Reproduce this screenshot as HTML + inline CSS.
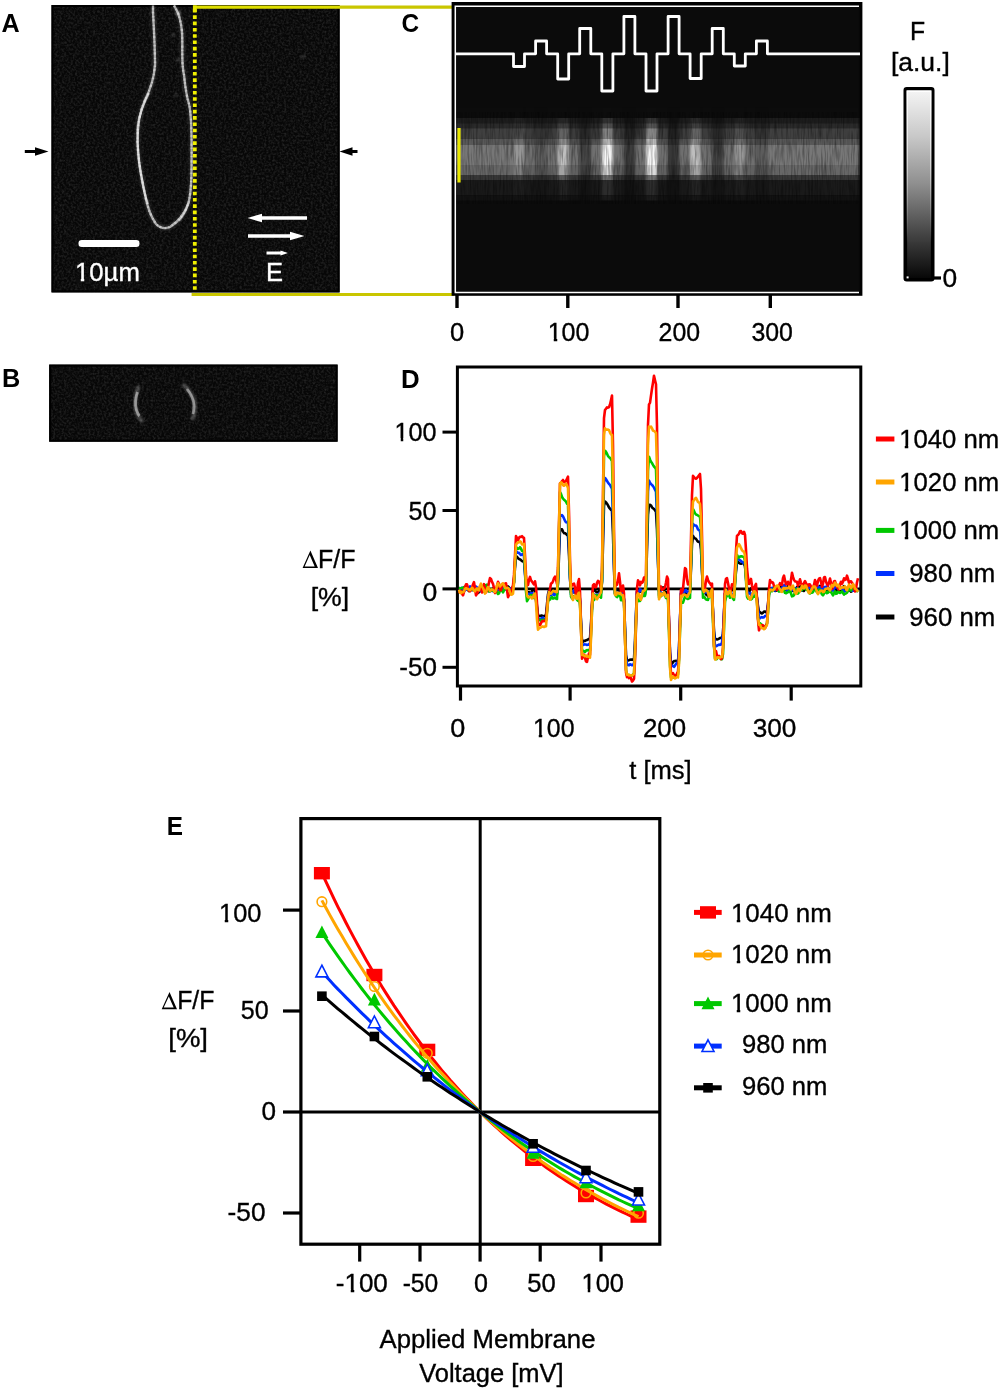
<!DOCTYPE html>
<html><head><meta charset="utf-8"><title>Figure</title>
<style>html,body{margin:0;padding:0;background:#fff;} svg{display:block;}</style></head>
<body><svg width="1000" height="1390" viewBox="0 0 1000 1390" font-family="Liberation Sans, sans-serif">
<defs>
<filter id="blur1" color-interpolation-filters="sRGB" x="-20%" y="-20%" width="140%" height="140%"><feGaussianBlur stdDeviation="0.7"/></filter>
<filter id="blur2" color-interpolation-filters="sRGB" x="-20%" y="-20%" width="140%" height="140%"><feGaussianBlur stdDeviation="1.2"/></filter>
<filter id="noise" color-interpolation-filters="sRGB" x="0" y="0" width="100%" height="100%">
  <feTurbulence type="fractalNoise" baseFrequency="0.45" numOctaves="2" seed="3"/>
  <feColorMatrix type="matrix" values="0 0 0 0 1  0 0 0 0 1  0 0 0 0 1  1.2 0 0 0 -0.45" />
</filter>
<filter id="bandblur" color-interpolation-filters="sRGB" x="0" y="0" width="100%" height="100%"><feGaussianBlur stdDeviation="0.9 0.5"/></filter>
<filter id="streak" color-interpolation-filters="sRGB" x="0" y="0" width="100%" height="100%">
  <feTurbulence type="fractalNoise" baseFrequency="0.6 0.05" numOctaves="2" seed="5"/>
  <feColorMatrix type="matrix" values="0 0 0 0 0  0 0 0 0 0  0 0 0 0 0  1.4 0 0 0 -0.55" />
</filter>
<linearGradient id="cbhl" gradientUnits="userSpaceOnUse" x1="0" y1="90" x2="0" y2="242">
  <stop offset="0" stop-color="#fff" stop-opacity="1"/><stop offset="0.5" stop-color="#fff" stop-opacity="0.6"/><stop offset="1" stop-color="#fff" stop-opacity="0"/>
</linearGradient>
<linearGradient id="cbar" x1="0" y1="0" x2="0" y2="1">
  <stop offset="0" stop-color="#f6f6f6"/><stop offset="0.25" stop-color="#c8c8c8"/>
  <stop offset="0.5" stop-color="#8e8e8e"/><stop offset="0.75" stop-color="#474747"/>
  <stop offset="1" stop-color="#050505"/>
</linearGradient>
</defs>
<rect x="51.5" y="5.0" width="288.1" height="287.4" fill="#070707"/>
<rect x="51.5" y="5.0" width="288.1" height="287.4" fill="#fff" filter="url(#noise)" opacity="0.2"/>
<rect x="52.5" y="6.0" width="286.1" height="285.4" fill="none" stroke="#000" stroke-width="2"/>
<path d="M174,5.5 L176,9 C179,14 181,22 182,32 C183,50 181,62 184,75 C185,85 186,95 189,104 C191,112 191.6,125 191.6,150 C191.6,175 191.6,190 188.5,203 C185,213 178,222 170,227 C165,229 160,228 156,224 C151,217 147,207 144.5,192 C141.5,177 138,162 137.5,142 C137.5,127 139,113 145,100 C150,90 154,80 155,65 C155,50 154,30 153,12 L153,5.5" fill="none" stroke="#fff" stroke-width="5" opacity="0.12" filter="url(#blur2)"/>
<path d="M174,5.5 L176,9 C179,14 181,22 182,32 C183,50 181,62 184,75 C185,85 186,95 189,104 C191,112 191.6,125 191.6,150 C191.6,175 191.6,190 188.5,203 C185,213 178,222 170,227 C165,229 160,228 156,224 C151,217 147,207 144.5,192 C141.5,177 138,162 137.5,142 C137.5,127 139,113 145,100 C150,90 154,80 155,65 C155,50 154,30 153,12 L153,5.5" fill="none" stroke="#fff" stroke-width="2.3" opacity="0.6" filter="url(#blur1)"/>
<path d="M174,5.5 L176,9 C179,14 181,22 182,32 C183,50 181,62 184,75 C185,85 186,95 189,104 C191,112 191.6,125 191.6,150 C191.6,175 191.6,190 188.5,203 C185,213 178,222 170,227 C165,229 160,228 156,224 C151,217 147,207 144.5,192 C141.5,177 138,162 137.5,142 C137.5,127 139,113 145,100 C150,90 154,80 155,65 C155,50 154,30 153,12 L153,5.5" fill="none" stroke="#fff" stroke-width="2.6" opacity="0.35" stroke-dasharray="1.6 2.4 1.1 3.3 2.2 1.9 1.2 2.8" filter="url(#blur1)"/>
<path d="M149,93 C146,99 139,113 137.5,127 C137.5,142 138,162 141.5,177 C143,187 145,196 148,204" fill="none" stroke="#fff" stroke-width="2.2" opacity="0.5" filter="url(#blur1)"/>
<path d="M179,221 C183,217 186,211 188.5,203" fill="none" stroke="#fff" stroke-width="2.2" opacity="0.4" filter="url(#blur1)"/>
<circle cx="178" cy="13" r="2.5" fill="#fff" opacity="0.3" filter="url(#blur2)"/>
<circle cx="173" cy="35" r="2" fill="#fff" opacity="0.15" filter="url(#blur2)"/>
<circle cx="178" cy="60" r="2" fill="#fff" opacity="0.15" filter="url(#blur2)"/>
<circle cx="176" cy="95" r="2" fill="#fff" opacity="0.12" filter="url(#blur2)"/>
<circle cx="303" cy="57" r="2.2" fill="#fff" opacity="0.12" filter="url(#blur2)"/>
<line x1="194.8" y1="9" x2="194.8" y2="292" stroke="#f0f000" stroke-width="3.8" stroke-dasharray="3.6 2.7"/>
<line x1="193" y1="7.1" x2="340" y2="7.1" stroke="#dede00" stroke-width="3.4"/>
<line x1="340" y1="7.1" x2="453" y2="7.1" stroke="#c9c600" stroke-width="3.4"/>
<line x1="194.8" y1="5.4" x2="194.8" y2="12" stroke="#e8e800" stroke-width="3.8"/>
<line x1="191.6" y1="294.5" x2="454" y2="294.5" stroke="#c9c600" stroke-width="3.2"/>
<rect x="78.5" y="240" width="61" height="7" rx="3.3" fill="#fff"/>
<polygon points="307.0,216.2 262.0,216.2 262.0,213.8 247.5,218.0 262.0,222.2 262.0,219.8 307.0,219.8" fill="#fff"/>
<polygon points="248.0,234.2 290.0,234.2 290.0,231.8 304.5,236.0 290.0,240.2 290.0,237.8 248.0,237.8" fill="#fff"/>
<polygon points="266.5,251.5 280.5,251.5 280.5,250.5 288.0,253.0 280.5,255.5 280.5,254.5 266.5,254.5" fill="#fff"/>
<polygon points="24.8,149.9 35.0,149.9 35.0,147.2 48.5,151.5 35.0,155.8 35.0,153.1 24.8,153.1" fill="#000"/>
<polygon points="357.5,149.9 352.5,149.9 352.5,147.3 339.5,151.5 352.5,155.7 352.5,153.1 357.5,153.1" fill="#000"/>
<rect x="49.2" y="364.6" width="288.40000000000003" height="77.09999999999997" fill="#070707"/>
<rect x="49.2" y="364.6" width="288.40000000000003" height="77.09999999999997" fill="#fff" filter="url(#noise)" opacity="0.2"/>
<rect x="50.2" y="365.6" width="286.40000000000003" height="75.09999999999997" fill="none" stroke="#000" stroke-width="2"/>
<path d="M139,386 C135,394 134,405 136,411 C137,415 140,419 143,422" fill="none" stroke="#fff" stroke-width="4" opacity="0.25" filter="url(#blur2)"/>
<path d="M183,384 C189,390 195,398 195,406 C195,412 194,416 192,420" fill="none" stroke="#fff" stroke-width="4" opacity="0.25" filter="url(#blur2)"/>
<path d="M137.5,392 C135.5,398 135,405 136.5,410 C137.5,413 138.5,415 139.5,416" fill="none" stroke="#fff" stroke-width="2.8" opacity="0.45" filter="url(#blur1)"/>
<path d="M187,389 C191,394 194,399 194,406 C194,410 193.5,412 193,414" fill="none" stroke="#fff" stroke-width="2.8" opacity="0.42" filter="url(#blur1)"/>
<rect x="451.6" y="2" width="410.8" height="293.8" fill="#000"/>
<rect x="456" y="7" width="403" height="284" fill="#0b0b0b"/>
<g filter="url(#bandblur)">
<rect x="455" y="6" width="405" height="286" fill="#0b0b0b"/>
<rect x="456.00" y="107.5" width="57.55" height="10.50" fill="rgb(12,12,12)"/>
<rect x="456.00" y="118" width="57.55" height="5.20" fill="rgb(29,29,29)"/>
<rect x="456.00" y="123.2" width="57.55" height="5.00" fill="rgb(42,42,42)"/>
<rect x="456.00" y="128.2" width="57.55" height="10.30" fill="rgb(64,64,64)"/>
<rect x="456.00" y="138.5" width="57.55" height="6.50" fill="rgb(89,89,89)"/>
<rect x="456.00" y="145" width="57.55" height="20.00" fill="rgb(119,119,119)"/>
<rect x="456.00" y="165" width="57.55" height="10.00" fill="rgb(103,103,103)"/>
<rect x="456.00" y="175" width="57.55" height="5.00" fill="rgb(56,56,56)"/>
<rect x="456.00" y="180" width="57.55" height="15.20" fill="rgb(26,26,26)"/>
<rect x="456.00" y="195.2" width="57.55" height="5.30" fill="rgb(18,18,18)"/>
<rect x="513.50" y="107.5" width="11.09" height="10.50" fill="rgb(12,12,12)"/>
<rect x="513.50" y="118" width="11.09" height="5.20" fill="rgb(34,34,34)"/>
<rect x="513.50" y="123.2" width="11.09" height="5.00" fill="rgb(51,51,51)"/>
<rect x="513.50" y="128.2" width="11.09" height="10.30" fill="rgb(79,79,79)"/>
<rect x="513.50" y="138.5" width="11.09" height="6.50" fill="rgb(110,110,110)"/>
<rect x="513.50" y="145" width="11.09" height="20.00" fill="rgb(150,150,150)"/>
<rect x="513.50" y="165" width="11.09" height="10.00" fill="rgb(129,129,129)"/>
<rect x="513.50" y="175" width="11.09" height="5.00" fill="rgb(68,68,68)"/>
<rect x="513.50" y="180" width="11.09" height="15.20" fill="rgb(30,30,30)"/>
<rect x="513.50" y="195.2" width="11.09" height="5.30" fill="rgb(20,20,20)"/>
<rect x="524.54" y="107.5" width="11.09" height="10.50" fill="rgb(12,12,12)"/>
<rect x="524.54" y="118" width="11.09" height="5.20" fill="rgb(28,28,28)"/>
<rect x="524.54" y="123.2" width="11.09" height="5.00" fill="rgb(40,40,40)"/>
<rect x="524.54" y="128.2" width="11.09" height="10.30" fill="rgb(60,60,60)"/>
<rect x="524.54" y="138.5" width="11.09" height="6.50" fill="rgb(82,82,82)"/>
<rect x="524.54" y="145" width="11.09" height="20.00" fill="rgb(111,111,111)"/>
<rect x="524.54" y="165" width="11.09" height="10.00" fill="rgb(96,96,96)"/>
<rect x="524.54" y="175" width="11.09" height="5.00" fill="rgb(52,52,52)"/>
<rect x="524.54" y="180" width="11.09" height="15.20" fill="rgb(25,25,25)"/>
<rect x="524.54" y="195.2" width="11.09" height="5.30" fill="rgb(18,18,18)"/>
<rect x="535.58" y="107.5" width="11.09" height="10.50" fill="rgb(11,11,11)"/>
<rect x="535.58" y="118" width="11.09" height="5.20" fill="rgb(25,25,25)"/>
<rect x="535.58" y="123.2" width="11.09" height="5.00" fill="rgb(34,34,34)"/>
<rect x="535.58" y="128.2" width="11.09" height="10.30" fill="rgb(51,51,51)"/>
<rect x="535.58" y="138.5" width="11.09" height="6.50" fill="rgb(69,69,69)"/>
<rect x="535.58" y="145" width="11.09" height="20.00" fill="rgb(92,92,92)"/>
<rect x="535.58" y="165" width="11.09" height="10.00" fill="rgb(80,80,80)"/>
<rect x="535.58" y="175" width="11.09" height="5.00" fill="rgb(44,44,44)"/>
<rect x="535.58" y="180" width="11.09" height="15.20" fill="rgb(22,22,22)"/>
<rect x="535.58" y="195.2" width="11.09" height="5.30" fill="rgb(16,16,16)"/>
<rect x="546.62" y="107.5" width="11.09" height="10.50" fill="rgb(12,12,12)"/>
<rect x="546.62" y="118" width="11.09" height="5.20" fill="rgb(28,28,28)"/>
<rect x="546.62" y="123.2" width="11.09" height="5.00" fill="rgb(40,40,40)"/>
<rect x="546.62" y="128.2" width="11.09" height="10.30" fill="rgb(60,60,60)"/>
<rect x="546.62" y="138.5" width="11.09" height="6.50" fill="rgb(82,82,82)"/>
<rect x="546.62" y="145" width="11.09" height="20.00" fill="rgb(111,111,111)"/>
<rect x="546.62" y="165" width="11.09" height="10.00" fill="rgb(96,96,96)"/>
<rect x="546.62" y="175" width="11.09" height="5.00" fill="rgb(52,52,52)"/>
<rect x="546.62" y="180" width="11.09" height="15.20" fill="rgb(25,25,25)"/>
<rect x="546.62" y="195.2" width="11.09" height="5.30" fill="rgb(18,18,18)"/>
<rect x="557.66" y="107.5" width="11.09" height="10.50" fill="rgb(12,12,12)"/>
<rect x="557.66" y="118" width="11.09" height="5.20" fill="rgb(41,41,41)"/>
<rect x="557.66" y="123.2" width="11.09" height="5.00" fill="rgb(63,63,63)"/>
<rect x="557.66" y="128.2" width="11.09" height="10.30" fill="rgb(99,99,99)"/>
<rect x="557.66" y="138.5" width="11.09" height="6.50" fill="rgb(139,139,139)"/>
<rect x="557.66" y="145" width="11.09" height="20.00" fill="rgb(190,190,190)"/>
<rect x="557.66" y="165" width="11.09" height="10.00" fill="rgb(163,163,163)"/>
<rect x="557.66" y="175" width="11.09" height="5.00" fill="rgb(85,85,85)"/>
<rect x="557.66" y="180" width="11.09" height="15.20" fill="rgb(36,36,36)"/>
<rect x="557.66" y="195.2" width="11.09" height="5.30" fill="rgb(23,23,23)"/>
<rect x="568.70" y="107.5" width="11.09" height="10.50" fill="rgb(12,12,12)"/>
<rect x="568.70" y="118" width="11.09" height="5.20" fill="rgb(28,28,28)"/>
<rect x="568.70" y="123.2" width="11.09" height="5.00" fill="rgb(40,40,40)"/>
<rect x="568.70" y="128.2" width="11.09" height="10.30" fill="rgb(60,60,60)"/>
<rect x="568.70" y="138.5" width="11.09" height="6.50" fill="rgb(82,82,82)"/>
<rect x="568.70" y="145" width="11.09" height="20.00" fill="rgb(111,111,111)"/>
<rect x="568.70" y="165" width="11.09" height="10.00" fill="rgb(96,96,96)"/>
<rect x="568.70" y="175" width="11.09" height="5.00" fill="rgb(52,52,52)"/>
<rect x="568.70" y="180" width="11.09" height="15.20" fill="rgb(25,25,25)"/>
<rect x="568.70" y="195.2" width="11.09" height="5.30" fill="rgb(18,18,18)"/>
<rect x="579.74" y="107.5" width="11.09" height="10.50" fill="rgb(11,11,11)"/>
<rect x="579.74" y="118" width="11.09" height="5.20" fill="rgb(21,21,21)"/>
<rect x="579.74" y="123.2" width="11.09" height="5.00" fill="rgb(28,28,28)"/>
<rect x="579.74" y="128.2" width="11.09" height="10.30" fill="rgb(40,40,40)"/>
<rect x="579.74" y="138.5" width="11.09" height="6.50" fill="rgb(53,53,53)"/>
<rect x="579.74" y="145" width="11.09" height="20.00" fill="rgb(70,70,70)"/>
<rect x="579.74" y="165" width="11.09" height="10.00" fill="rgb(61,61,61)"/>
<rect x="579.74" y="175" width="11.09" height="5.00" fill="rgb(35,35,35)"/>
<rect x="579.74" y="180" width="11.09" height="15.20" fill="rgb(19,19,19)"/>
<rect x="579.74" y="195.2" width="11.09" height="5.30" fill="rgb(15,15,15)"/>
<rect x="590.78" y="107.5" width="11.09" height="10.50" fill="rgb(12,12,12)"/>
<rect x="590.78" y="118" width="11.09" height="5.20" fill="rgb(28,28,28)"/>
<rect x="590.78" y="123.2" width="11.09" height="5.00" fill="rgb(40,40,40)"/>
<rect x="590.78" y="128.2" width="11.09" height="10.30" fill="rgb(60,60,60)"/>
<rect x="590.78" y="138.5" width="11.09" height="6.50" fill="rgb(82,82,82)"/>
<rect x="590.78" y="145" width="11.09" height="20.00" fill="rgb(111,111,111)"/>
<rect x="590.78" y="165" width="11.09" height="10.00" fill="rgb(96,96,96)"/>
<rect x="590.78" y="175" width="11.09" height="5.00" fill="rgb(52,52,52)"/>
<rect x="590.78" y="180" width="11.09" height="15.20" fill="rgb(25,25,25)"/>
<rect x="590.78" y="195.2" width="11.09" height="5.30" fill="rgb(18,18,18)"/>
<rect x="601.82" y="107.5" width="11.09" height="10.50" fill="rgb(13,13,13)"/>
<rect x="601.82" y="118" width="11.09" height="5.20" fill="rgb(52,52,52)"/>
<rect x="601.82" y="123.2" width="11.09" height="5.00" fill="rgb(81,81,81)"/>
<rect x="601.82" y="128.2" width="11.09" height="10.30" fill="rgb(129,129,129)"/>
<rect x="601.82" y="138.5" width="11.09" height="6.50" fill="rgb(182,182,182)"/>
<rect x="601.82" y="145" width="11.09" height="20.00" fill="rgb(245,245,245)"/>
<rect x="601.82" y="165" width="11.09" height="10.00" fill="rgb(214,214,214)"/>
<rect x="601.82" y="175" width="11.09" height="5.00" fill="rgb(110,110,110)"/>
<rect x="601.82" y="180" width="11.09" height="15.20" fill="rgb(44,44,44)"/>
<rect x="601.82" y="195.2" width="11.09" height="5.30" fill="rgb(27,27,27)"/>
<rect x="612.86" y="107.5" width="11.09" height="10.50" fill="rgb(12,12,12)"/>
<rect x="612.86" y="118" width="11.09" height="5.20" fill="rgb(28,28,28)"/>
<rect x="612.86" y="123.2" width="11.09" height="5.00" fill="rgb(40,40,40)"/>
<rect x="612.86" y="128.2" width="11.09" height="10.30" fill="rgb(60,60,60)"/>
<rect x="612.86" y="138.5" width="11.09" height="6.50" fill="rgb(82,82,82)"/>
<rect x="612.86" y="145" width="11.09" height="20.00" fill="rgb(111,111,111)"/>
<rect x="612.86" y="165" width="11.09" height="10.00" fill="rgb(96,96,96)"/>
<rect x="612.86" y="175" width="11.09" height="5.00" fill="rgb(52,52,52)"/>
<rect x="612.86" y="180" width="11.09" height="15.20" fill="rgb(25,25,25)"/>
<rect x="612.86" y="195.2" width="11.09" height="5.30" fill="rgb(18,18,18)"/>
<rect x="623.90" y="107.5" width="11.09" height="10.50" fill="rgb(11,11,11)"/>
<rect x="623.90" y="118" width="11.09" height="5.20" fill="rgb(19,19,19)"/>
<rect x="623.90" y="123.2" width="11.09" height="5.00" fill="rgb(25,25,25)"/>
<rect x="623.90" y="128.2" width="11.09" height="10.30" fill="rgb(35,35,35)"/>
<rect x="623.90" y="138.5" width="11.09" height="6.50" fill="rgb(46,46,46)"/>
<rect x="623.90" y="145" width="11.09" height="20.00" fill="rgb(60,60,60)"/>
<rect x="623.90" y="165" width="11.09" height="10.00" fill="rgb(52,52,52)"/>
<rect x="623.90" y="175" width="11.09" height="5.00" fill="rgb(31,31,31)"/>
<rect x="623.90" y="180" width="11.09" height="15.20" fill="rgb(17,17,17)"/>
<rect x="623.90" y="195.2" width="11.09" height="5.30" fill="rgb(14,14,14)"/>
<rect x="634.94" y="107.5" width="11.09" height="10.50" fill="rgb(12,12,12)"/>
<rect x="634.94" y="118" width="11.09" height="5.20" fill="rgb(28,28,28)"/>
<rect x="634.94" y="123.2" width="11.09" height="5.00" fill="rgb(40,40,40)"/>
<rect x="634.94" y="128.2" width="11.09" height="10.30" fill="rgb(60,60,60)"/>
<rect x="634.94" y="138.5" width="11.09" height="6.50" fill="rgb(82,82,82)"/>
<rect x="634.94" y="145" width="11.09" height="20.00" fill="rgb(111,111,111)"/>
<rect x="634.94" y="165" width="11.09" height="10.00" fill="rgb(96,96,96)"/>
<rect x="634.94" y="175" width="11.09" height="5.00" fill="rgb(52,52,52)"/>
<rect x="634.94" y="180" width="11.09" height="15.20" fill="rgb(25,25,25)"/>
<rect x="634.94" y="195.2" width="11.09" height="5.30" fill="rgb(18,18,18)"/>
<rect x="645.98" y="107.5" width="11.09" height="10.50" fill="rgb(13,13,13)"/>
<rect x="645.98" y="118" width="11.09" height="5.20" fill="rgb(53,53,53)"/>
<rect x="645.98" y="123.2" width="11.09" height="5.00" fill="rgb(82,82,82)"/>
<rect x="645.98" y="128.2" width="11.09" height="10.30" fill="rgb(132,132,132)"/>
<rect x="645.98" y="138.5" width="11.09" height="6.50" fill="rgb(186,186,186)"/>
<rect x="645.98" y="145" width="11.09" height="20.00" fill="rgb(245,245,245)"/>
<rect x="645.98" y="165" width="11.09" height="10.00" fill="rgb(218,218,218)"/>
<rect x="645.98" y="175" width="11.09" height="5.00" fill="rgb(112,112,112)"/>
<rect x="645.98" y="180" width="11.09" height="15.20" fill="rgb(45,45,45)"/>
<rect x="645.98" y="195.2" width="11.09" height="5.30" fill="rgb(28,28,28)"/>
<rect x="657.02" y="107.5" width="11.09" height="10.50" fill="rgb(12,12,12)"/>
<rect x="657.02" y="118" width="11.09" height="5.20" fill="rgb(28,28,28)"/>
<rect x="657.02" y="123.2" width="11.09" height="5.00" fill="rgb(40,40,40)"/>
<rect x="657.02" y="128.2" width="11.09" height="10.30" fill="rgb(60,60,60)"/>
<rect x="657.02" y="138.5" width="11.09" height="6.50" fill="rgb(82,82,82)"/>
<rect x="657.02" y="145" width="11.09" height="20.00" fill="rgb(111,111,111)"/>
<rect x="657.02" y="165" width="11.09" height="10.00" fill="rgb(96,96,96)"/>
<rect x="657.02" y="175" width="11.09" height="5.00" fill="rgb(52,52,52)"/>
<rect x="657.02" y="180" width="11.09" height="15.20" fill="rgb(25,25,25)"/>
<rect x="657.02" y="195.2" width="11.09" height="5.30" fill="rgb(18,18,18)"/>
<rect x="668.06" y="107.5" width="11.09" height="10.50" fill="rgb(11,11,11)"/>
<rect x="668.06" y="118" width="11.09" height="5.20" fill="rgb(18,18,18)"/>
<rect x="668.06" y="123.2" width="11.09" height="5.00" fill="rgb(24,24,24)"/>
<rect x="668.06" y="128.2" width="11.09" height="10.30" fill="rgb(33,33,33)"/>
<rect x="668.06" y="138.5" width="11.09" height="6.50" fill="rgb(43,43,43)"/>
<rect x="668.06" y="145" width="11.09" height="20.00" fill="rgb(56,56,56)"/>
<rect x="668.06" y="165" width="11.09" height="10.00" fill="rgb(49,49,49)"/>
<rect x="668.06" y="175" width="11.09" height="5.00" fill="rgb(29,29,29)"/>
<rect x="668.06" y="180" width="11.09" height="15.20" fill="rgb(17,17,17)"/>
<rect x="668.06" y="195.2" width="11.09" height="5.30" fill="rgb(14,14,14)"/>
<rect x="679.10" y="107.5" width="11.09" height="10.50" fill="rgb(12,12,12)"/>
<rect x="679.10" y="118" width="11.09" height="5.20" fill="rgb(28,28,28)"/>
<rect x="679.10" y="123.2" width="11.09" height="5.00" fill="rgb(40,40,40)"/>
<rect x="679.10" y="128.2" width="11.09" height="10.30" fill="rgb(60,60,60)"/>
<rect x="679.10" y="138.5" width="11.09" height="6.50" fill="rgb(82,82,82)"/>
<rect x="679.10" y="145" width="11.09" height="20.00" fill="rgb(111,111,111)"/>
<rect x="679.10" y="165" width="11.09" height="10.00" fill="rgb(96,96,96)"/>
<rect x="679.10" y="175" width="11.09" height="5.00" fill="rgb(52,52,52)"/>
<rect x="679.10" y="180" width="11.09" height="15.20" fill="rgb(25,25,25)"/>
<rect x="679.10" y="195.2" width="11.09" height="5.30" fill="rgb(18,18,18)"/>
<rect x="690.14" y="107.5" width="11.09" height="10.50" fill="rgb(12,12,12)"/>
<rect x="690.14" y="118" width="11.09" height="5.20" fill="rgb(41,41,41)"/>
<rect x="690.14" y="123.2" width="11.09" height="5.00" fill="rgb(63,63,63)"/>
<rect x="690.14" y="128.2" width="11.09" height="10.30" fill="rgb(99,99,99)"/>
<rect x="690.14" y="138.5" width="11.09" height="6.50" fill="rgb(139,139,139)"/>
<rect x="690.14" y="145" width="11.09" height="20.00" fill="rgb(190,190,190)"/>
<rect x="690.14" y="165" width="11.09" height="10.00" fill="rgb(163,163,163)"/>
<rect x="690.14" y="175" width="11.09" height="5.00" fill="rgb(85,85,85)"/>
<rect x="690.14" y="180" width="11.09" height="15.20" fill="rgb(36,36,36)"/>
<rect x="690.14" y="195.2" width="11.09" height="5.30" fill="rgb(23,23,23)"/>
<rect x="701.18" y="107.5" width="11.09" height="10.50" fill="rgb(12,12,12)"/>
<rect x="701.18" y="118" width="11.09" height="5.20" fill="rgb(28,28,28)"/>
<rect x="701.18" y="123.2" width="11.09" height="5.00" fill="rgb(40,40,40)"/>
<rect x="701.18" y="128.2" width="11.09" height="10.30" fill="rgb(60,60,60)"/>
<rect x="701.18" y="138.5" width="11.09" height="6.50" fill="rgb(82,82,82)"/>
<rect x="701.18" y="145" width="11.09" height="20.00" fill="rgb(111,111,111)"/>
<rect x="701.18" y="165" width="11.09" height="10.00" fill="rgb(96,96,96)"/>
<rect x="701.18" y="175" width="11.09" height="5.00" fill="rgb(52,52,52)"/>
<rect x="701.18" y="180" width="11.09" height="15.20" fill="rgb(25,25,25)"/>
<rect x="701.18" y="195.2" width="11.09" height="5.30" fill="rgb(18,18,18)"/>
<rect x="712.22" y="107.5" width="11.09" height="10.50" fill="rgb(11,11,11)"/>
<rect x="712.22" y="118" width="11.09" height="5.20" fill="rgb(20,20,20)"/>
<rect x="712.22" y="123.2" width="11.09" height="5.00" fill="rgb(27,27,27)"/>
<rect x="712.22" y="128.2" width="11.09" height="10.30" fill="rgb(39,39,39)"/>
<rect x="712.22" y="138.5" width="11.09" height="6.50" fill="rgb(51,51,51)"/>
<rect x="712.22" y="145" width="11.09" height="20.00" fill="rgb(67,67,67)"/>
<rect x="712.22" y="165" width="11.09" height="10.00" fill="rgb(59,59,59)"/>
<rect x="712.22" y="175" width="11.09" height="5.00" fill="rgb(34,34,34)"/>
<rect x="712.22" y="180" width="11.09" height="15.20" fill="rgb(19,19,19)"/>
<rect x="712.22" y="195.2" width="11.09" height="5.30" fill="rgb(15,15,15)"/>
<rect x="723.26" y="107.5" width="11.09" height="10.50" fill="rgb(12,12,12)"/>
<rect x="723.26" y="118" width="11.09" height="5.20" fill="rgb(28,28,28)"/>
<rect x="723.26" y="123.2" width="11.09" height="5.00" fill="rgb(40,40,40)"/>
<rect x="723.26" y="128.2" width="11.09" height="10.30" fill="rgb(60,60,60)"/>
<rect x="723.26" y="138.5" width="11.09" height="6.50" fill="rgb(82,82,82)"/>
<rect x="723.26" y="145" width="11.09" height="20.00" fill="rgb(111,111,111)"/>
<rect x="723.26" y="165" width="11.09" height="10.00" fill="rgb(96,96,96)"/>
<rect x="723.26" y="175" width="11.09" height="5.00" fill="rgb(52,52,52)"/>
<rect x="723.26" y="180" width="11.09" height="15.20" fill="rgb(25,25,25)"/>
<rect x="723.26" y="195.2" width="11.09" height="5.30" fill="rgb(18,18,18)"/>
<rect x="734.30" y="107.5" width="11.09" height="10.50" fill="rgb(12,12,12)"/>
<rect x="734.30" y="118" width="11.09" height="5.20" fill="rgb(34,34,34)"/>
<rect x="734.30" y="123.2" width="11.09" height="5.00" fill="rgb(51,51,51)"/>
<rect x="734.30" y="128.2" width="11.09" height="10.30" fill="rgb(79,79,79)"/>
<rect x="734.30" y="138.5" width="11.09" height="6.50" fill="rgb(110,110,110)"/>
<rect x="734.30" y="145" width="11.09" height="20.00" fill="rgb(150,150,150)"/>
<rect x="734.30" y="165" width="11.09" height="10.00" fill="rgb(129,129,129)"/>
<rect x="734.30" y="175" width="11.09" height="5.00" fill="rgb(68,68,68)"/>
<rect x="734.30" y="180" width="11.09" height="15.20" fill="rgb(30,30,30)"/>
<rect x="734.30" y="195.2" width="11.09" height="5.30" fill="rgb(20,20,20)"/>
<rect x="745.34" y="107.5" width="11.09" height="10.50" fill="rgb(12,12,12)"/>
<rect x="745.34" y="118" width="11.09" height="5.20" fill="rgb(28,28,28)"/>
<rect x="745.34" y="123.2" width="11.09" height="5.00" fill="rgb(40,40,40)"/>
<rect x="745.34" y="128.2" width="11.09" height="10.30" fill="rgb(60,60,60)"/>
<rect x="745.34" y="138.5" width="11.09" height="6.50" fill="rgb(82,82,82)"/>
<rect x="745.34" y="145" width="11.09" height="20.00" fill="rgb(111,111,111)"/>
<rect x="745.34" y="165" width="11.09" height="10.00" fill="rgb(96,96,96)"/>
<rect x="745.34" y="175" width="11.09" height="5.00" fill="rgb(52,52,52)"/>
<rect x="745.34" y="180" width="11.09" height="15.20" fill="rgb(25,25,25)"/>
<rect x="745.34" y="195.2" width="11.09" height="5.30" fill="rgb(18,18,18)"/>
<rect x="756.38" y="107.5" width="11.09" height="10.50" fill="rgb(11,11,11)"/>
<rect x="756.38" y="118" width="11.09" height="5.20" fill="rgb(25,25,25)"/>
<rect x="756.38" y="123.2" width="11.09" height="5.00" fill="rgb(34,34,34)"/>
<rect x="756.38" y="128.2" width="11.09" height="10.30" fill="rgb(51,51,51)"/>
<rect x="756.38" y="138.5" width="11.09" height="6.50" fill="rgb(69,69,69)"/>
<rect x="756.38" y="145" width="11.09" height="20.00" fill="rgb(92,92,92)"/>
<rect x="756.38" y="165" width="11.09" height="10.00" fill="rgb(80,80,80)"/>
<rect x="756.38" y="175" width="11.09" height="5.00" fill="rgb(44,44,44)"/>
<rect x="756.38" y="180" width="11.09" height="15.20" fill="rgb(22,22,22)"/>
<rect x="756.38" y="195.2" width="11.09" height="5.30" fill="rgb(16,16,16)"/>
<rect x="767.42" y="107.5" width="91.63" height="10.50" fill="rgb(12,12,12)"/>
<rect x="767.42" y="118" width="91.63" height="5.20" fill="rgb(29,29,29)"/>
<rect x="767.42" y="123.2" width="91.63" height="5.00" fill="rgb(42,42,42)"/>
<rect x="767.42" y="128.2" width="91.63" height="10.30" fill="rgb(64,64,64)"/>
<rect x="767.42" y="138.5" width="91.63" height="6.50" fill="rgb(89,89,89)"/>
<rect x="767.42" y="145" width="91.63" height="20.00" fill="rgb(119,119,119)"/>
<rect x="767.42" y="165" width="91.63" height="10.00" fill="rgb(103,103,103)"/>
<rect x="767.42" y="175" width="91.63" height="5.00" fill="rgb(56,56,56)"/>
<rect x="767.42" y="180" width="91.63" height="15.20" fill="rgb(26,26,26)"/>
<rect x="767.42" y="195.2" width="91.63" height="5.30" fill="rgb(18,18,18)"/>
</g>
<rect x="456" y="112" width="403" height="92" fill="#000" filter="url(#streak)" opacity="0.55"/>
<polyline points="456.0,53.8 513.5,53.8 513.5,66.5 524.5,66.5 524.5,53.8 535.6,53.8 535.6,41.0 546.6,41.0 546.6,53.8 557.7,53.8 557.7,79.0 568.7,79.0 568.7,53.8 579.7,53.8 579.7,28.5 590.8,28.5 590.8,53.8 601.8,53.8 601.8,91.0 612.9,91.0 612.9,53.8 623.9,53.8 623.9,16.5 634.9,16.5 634.9,53.8 646.0,53.8 646.0,91.0 657.0,91.0 657.0,53.8 668.1,53.8 668.1,16.5 679.1,16.5 679.1,53.8 690.1,53.8 690.1,78.5 701.2,78.5 701.2,53.8 712.2,53.8 712.2,28.5 723.3,28.5 723.3,53.8 734.3,53.8 734.3,66.0 745.3,66.0 745.3,53.8 756.4,53.8 756.4,41.0 767.4,41.0 767.4,53.8 860.0,53.8" fill="none" stroke="#fff" stroke-width="2.8" stroke-linejoin="round"/>
<polyline points="859,6.2 455.3,6.2 455.3,292.5 859,292.5" fill="none" stroke="#fff" stroke-width="1.5"/>
<rect x="457.4" y="128" width="3.2" height="54.5" fill="#e8e800"/>
<line x1="457" y1="295" x2="457" y2="308" stroke="#000" stroke-width="3.4"/>
<line x1="567.8" y1="295" x2="567.8" y2="308" stroke="#000" stroke-width="3.4"/>
<line x1="678" y1="295" x2="678" y2="308" stroke="#000" stroke-width="3.4"/>
<line x1="770.3" y1="295" x2="770.3" y2="308" stroke="#000" stroke-width="3.4"/>
<rect x="905.3" y="88.8" width="27.4" height="191" rx="1.5" fill="url(#cbar)" stroke="#000" stroke-width="3.6"/>
<rect x="907.2" y="91.2" width="23.6" height="150" fill="none" stroke="url(#cbhl)" stroke-width="1.6"/>
<line x1="933" y1="278" x2="941" y2="278" stroke="#000" stroke-width="3.2"/>
<rect x="906.6" y="276.4" width="2" height="2" fill="#fff"/>
<rect x="457.4" y="367.0" width="403.4" height="319.0" fill="none" stroke="#000" stroke-width="3"/>
<line x1="442.5" y1="432.1" x2="457.4" y2="432.1" stroke="#000" stroke-width="3"/>
<line x1="442.5" y1="510.5" x2="457.4" y2="510.5" stroke="#000" stroke-width="3"/>
<line x1="442.5" y1="588.9" x2="457.4" y2="588.9" stroke="#000" stroke-width="3"/>
<line x1="442.5" y1="667.3" x2="457.4" y2="667.3" stroke="#000" stroke-width="3"/>
<line x1="460.5" y1="686.0" x2="460.5" y2="700.6" stroke="#000" stroke-width="3.2"/>
<line x1="570.1" y1="686.0" x2="570.1" y2="700.6" stroke="#000" stroke-width="3.2"/>
<line x1="680.7" y1="686.0" x2="680.7" y2="700.6" stroke="#000" stroke-width="3.2"/>
<line x1="791.2" y1="686.0" x2="791.2" y2="700.6" stroke="#000" stroke-width="3.2"/>
<line x1="457.4" y1="588.9" x2="860.8" y2="588.9" stroke="#000" stroke-width="2.8"/>
<polyline points="459.0,588.7 460.0,588.7 461.0,589.6 462.0,590.5 463.0,590.7 464.0,590.4 465.0,588.6 466.0,587.5 467.0,589.1 468.0,589.7 469.0,588.4 470.0,588.1 471.0,589.1 472.0,590.0 473.0,589.1 474.0,588.9 475.0,590.5 476.0,591.6 477.0,592.5 478.0,592.9 479.0,592.2 480.0,591.2 481.0,590.5 482.0,589.3 483.0,588.6 484.0,590.7 485.0,592.6 486.0,591.2 487.0,589.2 488.0,589.8 489.0,591.1 490.0,591.1 491.0,591.0 492.0,589.9 493.0,588.6 494.0,589.3 495.0,588.9 496.0,588.2 497.0,589.2 498.0,589.3 499.0,588.8 500.0,589.5 501.0,590.4 502.0,588.7 503.0,588.1 504.0,589.5 505.0,588.7 506.0,588.6 507.0,588.4 508.0,586.3 509.0,587.4 510.0,589.9 511.0,589.2 512.0,588.2 513.0,588.3 514.0,581.9 515.0,567.6 516.0,556.4 517.0,556.8 518.0,558.2 519.0,559.0 520.0,559.4 521.0,560.1 522.0,561.1 523.0,561.4 524.0,561.0 525.0,572.1 526.0,585.1 527.0,592.7 528.0,592.7 529.0,592.2 530.0,593.7 531.0,593.2 532.0,590.9 533.0,589.3 534.0,589.8 535.0,591.5 536.0,597.5 537.0,606.6 538.0,615.2 539.0,615.8 540.0,616.0 541.0,615.6 542.0,615.6 543.0,616.0 544.0,616.2 545.0,615.7 546.0,615.0 547.0,604.2 548.0,594.4 549.0,590.4 550.0,590.6 551.0,590.6 552.0,590.1 553.0,590.2 554.0,591.3 555.0,592.3 556.0,592.7 557.0,594.5 558.0,583.5 559.0,555.7 560.0,529.7 561.0,529.3 562.0,529.4 563.0,531.6 564.0,533.1 565.0,533.2 566.0,533.8 567.0,535.0 568.0,535.8 569.0,554.7 570.0,578.1 571.0,592.3 572.0,592.0 573.0,591.9 574.0,592.4 575.0,592.1 576.0,591.6 577.0,590.4 578.0,590.3 579.0,591.4 580.0,599.5 581.0,621.1 582.0,641.5 583.0,641.6 584.0,640.9 585.0,640.9 586.0,640.3 587.0,640.0 588.0,639.5 589.0,638.9 590.0,638.4 591.0,623.8 592.0,604.9 593.0,589.7 594.0,588.6 595.0,590.6 596.0,591.7 597.0,592.3 598.0,591.9 599.0,590.8 600.0,591.3 601.0,592.2 602.0,582.0 603.0,544.3 604.0,505.7 605.0,501.4 606.0,502.4 607.0,503.7 608.0,505.4 609.0,507.4 610.0,508.7 611.0,509.8 612.0,510.9 613.0,535.0 614.0,569.1 615.0,593.7 616.0,592.1 617.0,590.1 618.0,591.7 619.0,592.8 620.0,590.6 621.0,590.2 622.0,592.3 623.0,592.9 624.0,599.1 625.0,628.4 626.0,655.1 627.0,660.2 628.0,660.4 629.0,660.2 630.0,659.7 631.0,659.5 632.0,659.6 633.0,659.8 634.0,659.0 635.0,640.7 636.0,613.0 637.0,591.2 638.0,591.4 639.0,592.2 640.0,591.8 641.0,591.0 642.0,591.3 643.0,591.6 644.0,590.6 645.0,589.3 646.0,584.9 647.0,548.9 648.0,514.5 649.0,504.9 650.0,504.7 651.0,505.5 652.0,507.3 653.0,508.3 654.0,509.1 655.0,510.2 656.0,511.8 657.0,529.6 658.0,562.3 659.0,591.3 660.0,590.6 661.0,589.5 662.0,588.6 663.0,587.3 664.0,588.9 665.0,592.8 666.0,593.6 667.0,591.9 668.0,593.2 669.0,622.4 670.0,651.8 671.0,663.7 672.0,663.8 673.0,662.0 674.0,661.1 675.0,661.0 676.0,660.9 677.0,661.3 678.0,661.3 679.0,648.8 680.0,620.9 681.0,593.7 682.0,591.7 683.0,590.7 684.0,591.4 685.0,592.7 686.0,593.4 687.0,593.5 688.0,592.9 689.0,592.1 690.0,591.9 691.0,568.8 692.0,544.3 693.0,535.8 694.0,537.6 695.0,538.3 696.0,538.9 697.0,540.4 698.0,541.8 699.0,541.9 700.0,541.8 701.0,549.7 702.0,570.7 703.0,590.0 704.0,590.0 705.0,591.9 706.0,594.5 707.0,594.8 708.0,596.3 709.0,597.0 710.0,593.2 711.0,589.9 712.0,591.1 713.0,611.3 714.0,630.8 715.0,639.4 716.0,639.1 717.0,639.4 718.0,639.2 719.0,638.7 720.0,638.0 721.0,637.8 722.0,638.3 723.0,633.5 724.0,613.5 725.0,593.4 726.0,591.1 727.0,592.3 728.0,592.2 729.0,592.2 730.0,591.8 731.0,589.0 732.0,588.6 733.0,590.4 734.0,590.3 735.0,581.9 736.0,571.7 737.0,562.4 738.0,561.9 739.0,562.7 740.0,563.6 741.0,563.8 742.0,563.3 743.0,563.0 744.0,563.7 745.0,566.3 746.0,576.6 747.0,589.1 748.0,593.3 749.0,592.8 750.0,589.8 751.0,588.4 752.0,589.0 753.0,589.7 754.0,590.5 755.0,591.1 756.0,591.6 757.0,598.3 758.0,606.1 759.0,611.9 760.0,612.1 761.0,613.0 762.0,613.5 763.0,612.8 764.0,611.5 765.0,611.5 766.0,612.3 767.0,611.8 768.0,604.1 769.0,591.8 770.0,588.1 771.0,589.0 772.0,589.6 773.0,589.3 774.0,589.9 775.0,591.0 776.0,590.8 777.0,589.6 778.0,588.8 779.0,589.0 780.0,587.7 781.0,586.8 782.0,588.7 783.0,589.7 784.0,589.0 785.0,589.4 786.0,589.9 787.0,587.7 788.0,586.2 789.0,588.1 790.0,590.0 791.0,590.2 792.0,590.0 793.0,591.0 794.0,590.3 795.0,588.5 796.0,588.5 797.0,587.1 798.0,586.1 799.0,587.2 800.0,586.8 801.0,586.2 802.0,588.3 803.0,590.7 804.0,591.0 805.0,588.8 806.0,586.4 807.0,587.3 808.0,590.0 809.0,590.9 810.0,589.9 811.0,589.0 812.0,588.8 813.0,588.6 814.0,588.6 815.0,589.1 816.0,589.0 817.0,588.7 818.0,588.6 819.0,587.1 820.0,585.8 821.0,586.9 822.0,589.5 823.0,590.8 824.0,590.7 825.0,592.0 826.0,591.4 827.0,588.3 828.0,587.5 829.0,589.7 830.0,591.4 831.0,590.9 832.0,589.6 833.0,587.1 834.0,585.5 835.0,587.7 836.0,590.5 837.0,590.9 838.0,589.8 839.0,589.9 840.0,590.4 841.0,590.2 842.0,589.6 843.0,587.5 844.0,586.1 845.0,587.1 846.0,588.5 847.0,588.6 848.0,589.0 849.0,589.7 850.0,590.4 851.0,591.7 852.0,591.1 853.0,588.9 854.0,588.5 855.0,588.1 856.0,588.6 857.0,591.0 858.0,591.0" fill="none" stroke="#000000" stroke-width="2.6" stroke-linejoin="round"/>
<polyline points="459.0,588.4 460.0,588.5 461.0,588.5 462.0,587.7 463.0,588.7 464.0,590.9 465.0,590.4 466.0,588.2 467.0,589.0 468.0,590.2 469.0,588.0 470.0,586.4 471.0,587.0 472.0,588.7 473.0,590.2 474.0,588.9 475.0,586.5 476.0,586.5 477.0,587.4 478.0,588.6 479.0,590.2 480.0,591.2 481.0,589.8 482.0,588.7 483.0,589.2 484.0,588.1 485.0,588.4 486.0,590.3 487.0,590.5 488.0,589.8 489.0,589.6 490.0,590.1 491.0,590.5 492.0,590.5 493.0,591.2 494.0,591.2 495.0,589.2 496.0,588.8 497.0,590.3 498.0,590.3 499.0,590.4 500.0,590.0 501.0,588.8 502.0,588.1 503.0,587.8 504.0,588.7 505.0,589.0 506.0,589.4 507.0,589.6 508.0,588.7 509.0,588.3 510.0,588.3 511.0,589.3 512.0,590.4 513.0,589.7 514.0,581.5 515.0,563.7 516.0,551.0 517.0,552.2 518.0,552.8 519.0,552.9 520.0,554.1 521.0,555.1 522.0,554.3 523.0,554.3 524.0,556.1 525.0,574.0 526.0,589.0 527.0,594.5 528.0,593.6 529.0,594.1 530.0,593.9 531.0,593.0 532.0,593.1 533.0,593.4 534.0,594.6 535.0,596.2 536.0,600.5 537.0,608.6 538.0,618.7 539.0,619.0 540.0,618.8 541.0,618.7 542.0,617.9 543.0,617.6 544.0,619.0 545.0,620.1 546.0,619.9 547.0,610.2 548.0,597.2 549.0,591.9 550.0,594.4 551.0,595.4 552.0,593.3 553.0,593.1 554.0,595.2 555.0,594.6 556.0,593.2 557.0,592.9 558.0,579.0 559.0,546.9 560.0,515.5 561.0,515.8 562.0,515.2 563.0,516.3 564.0,518.6 565.0,520.8 566.0,522.2 567.0,522.4 568.0,522.7 569.0,548.0 570.0,577.7 571.0,594.4 572.0,593.6 573.0,592.1 574.0,590.0 575.0,589.7 576.0,592.3 577.0,593.9 578.0,593.8 579.0,594.1 580.0,602.1 581.0,623.9 582.0,644.9 583.0,645.0 584.0,644.5 585.0,644.4 586.0,644.6 587.0,644.9 588.0,644.8 589.0,644.2 590.0,643.7 591.0,627.2 592.0,606.9 593.0,594.5 594.0,594.5 595.0,594.9 596.0,594.7 597.0,594.9 598.0,595.6 599.0,593.9 600.0,592.7 601.0,593.2 602.0,579.8 603.0,530.8 604.0,482.3 605.0,477.9 606.0,479.2 607.0,480.9 608.0,482.7 609.0,483.8 610.0,485.0 611.0,487.0 612.0,488.5 613.0,519.8 614.0,563.7 615.0,593.1 616.0,592.0 617.0,592.1 618.0,592.6 619.0,593.6 620.0,593.2 621.0,591.9 622.0,591.7 623.0,593.2 624.0,600.4 625.0,628.9 626.0,658.2 627.0,664.1 628.0,665.0 629.0,665.3 630.0,664.2 631.0,664.6 632.0,665.3 633.0,664.4 634.0,664.3 635.0,648.1 636.0,616.8 637.0,591.8 638.0,592.3 639.0,591.6 640.0,589.4 641.0,589.7 642.0,592.1 643.0,594.0 644.0,595.0 645.0,594.2 646.0,586.7 647.0,538.4 648.0,491.6 649.0,480.5 650.0,482.7 651.0,484.1 652.0,484.9 653.0,486.1 654.0,487.6 655.0,489.7 656.0,491.8 657.0,515.3 658.0,558.8 659.0,595.2 660.0,593.2 661.0,592.3 662.0,593.5 663.0,595.0 664.0,594.8 665.0,594.4 666.0,595.8 667.0,596.5 668.0,595.3 669.0,623.7 670.0,654.7 671.0,666.4 672.0,665.7 673.0,665.9 674.0,666.8 675.0,665.6 676.0,663.8 677.0,662.8 678.0,661.9 679.0,647.7 680.0,619.6 681.0,591.7 682.0,592.0 683.0,593.0 684.0,592.6 685.0,590.4 686.0,589.8 687.0,591.8 688.0,592.9 689.0,591.7 690.0,591.0 691.0,562.7 692.0,534.3 693.0,523.9 694.0,525.1 695.0,525.5 696.0,525.6 697.0,526.9 698.0,529.4 699.0,530.3 700.0,530.5 701.0,542.0 702.0,568.1 703.0,591.1 704.0,591.2 705.0,592.2 706.0,592.5 707.0,592.0 708.0,591.8 709.0,592.2 710.0,593.8 711.0,594.4 712.0,593.6 713.0,612.8 714.0,634.0 715.0,645.8 716.0,646.2 717.0,645.8 718.0,645.1 719.0,644.6 720.0,644.9 721.0,644.5 722.0,642.7 723.0,633.0 724.0,612.5 725.0,593.9 726.0,591.5 727.0,590.8 728.0,592.6 729.0,594.1 730.0,593.0 731.0,592.7 732.0,594.6 733.0,596.4 734.0,595.3 735.0,581.9 736.0,567.9 737.0,559.4 738.0,559.2 739.0,559.6 740.0,560.2 741.0,560.9 742.0,561.8 743.0,562.6 744.0,562.5 745.0,564.6 746.0,577.7 747.0,591.5 748.0,593.9 749.0,592.9 750.0,593.1 751.0,595.1 752.0,595.4 753.0,592.3 754.0,589.2 755.0,590.0 756.0,591.9 757.0,598.4 758.0,608.4 759.0,618.1 760.0,618.3 761.0,617.4 762.0,617.1 763.0,617.6 764.0,617.3 765.0,616.0 766.0,615.6 767.0,615.0 768.0,606.0 769.0,594.0 770.0,589.4 771.0,588.3 772.0,587.8 773.0,587.7 774.0,589.6 775.0,590.6 776.0,589.4 777.0,589.2 778.0,589.5 779.0,589.3 780.0,590.4 781.0,590.5 782.0,587.9 783.0,586.3 784.0,585.3 785.0,584.9 786.0,588.0 787.0,591.0 788.0,591.2 789.0,590.6 790.0,589.5 791.0,589.6 792.0,590.4 793.0,589.9 794.0,589.6 795.0,588.8 796.0,588.3 797.0,588.6 798.0,588.8 799.0,589.2 800.0,590.3 801.0,590.7 802.0,588.0 803.0,584.5 804.0,583.6 805.0,584.7 806.0,586.8 807.0,587.6 808.0,586.7 809.0,587.3 810.0,588.4 811.0,588.5 812.0,588.5 813.0,588.7 814.0,589.2 815.0,589.8 816.0,587.8 817.0,585.5 818.0,586.9 819.0,588.1 820.0,587.1 821.0,587.6 822.0,589.2 823.0,588.5 824.0,586.9 825.0,587.1 826.0,586.8 827.0,586.5 828.0,587.9 829.0,588.8 830.0,587.8 831.0,587.8 832.0,590.1 833.0,590.6 834.0,588.8 835.0,587.2 836.0,586.0 837.0,586.9 838.0,588.8 839.0,588.4 840.0,588.4 841.0,588.8 842.0,588.4 843.0,590.3 844.0,591.6 845.0,590.9 846.0,590.7 847.0,589.7 848.0,587.9 849.0,586.5 850.0,586.0 851.0,588.3 852.0,590.7 853.0,590.7 854.0,590.6 855.0,590.0 856.0,588.8 857.0,589.9 858.0,591.1" fill="none" stroke="#0030ff" stroke-width="2.6" stroke-linejoin="round"/>
<polyline points="459.0,587.8 460.0,588.2 461.0,588.3 462.0,587.9 463.0,587.7 464.0,587.3 465.0,586.5 466.0,586.8 467.0,587.6 468.0,589.1 469.0,591.1 470.0,590.6 471.0,589.3 472.0,589.9 473.0,589.6 474.0,587.2 475.0,588.4 476.0,592.3 477.0,593.0 478.0,590.9 479.0,589.9 480.0,590.1 481.0,589.9 482.0,589.4 483.0,589.1 484.0,589.7 485.0,588.8 486.0,585.2 487.0,584.6 488.0,588.8 489.0,591.2 490.0,590.0 491.0,589.2 492.0,590.6 493.0,590.7 494.0,590.2 495.0,591.4 496.0,591.7 497.0,592.2 498.0,594.0 499.0,593.4 500.0,590.7 501.0,589.2 502.0,590.6 503.0,592.4 504.0,590.5 505.0,587.5 506.0,587.4 507.0,589.3 508.0,589.9 509.0,589.1 510.0,590.3 511.0,592.0 512.0,590.0 513.0,587.0 514.0,582.3 515.0,562.2 516.0,547.2 517.0,547.8 518.0,548.9 519.0,548.5 520.0,547.2 521.0,548.7 522.0,550.9 523.0,551.5 524.0,551.0 525.0,569.3 526.0,591.3 527.0,601.1 528.0,599.4 529.0,597.6 530.0,596.2 531.0,595.0 532.0,595.2 533.0,596.8 534.0,598.0 535.0,595.2 536.0,597.8 537.0,609.4 538.0,620.6 539.0,620.0 540.0,619.7 541.0,620.9 542.0,621.0 543.0,619.9 544.0,619.8 545.0,620.3 546.0,620.3 547.0,611.5 548.0,602.2 549.0,598.6 550.0,599.6 551.0,597.8 552.0,596.9 553.0,598.6 554.0,598.2 555.0,597.5 556.0,598.6 557.0,599.0 558.0,579.2 559.0,532.7 560.0,492.0 561.0,493.9 562.0,496.9 563.0,498.5 564.0,499.8 565.0,500.6 566.0,501.7 567.0,503.8 568.0,504.6 569.0,536.1 570.0,573.8 571.0,596.6 572.0,598.3 573.0,597.0 574.0,596.0 575.0,596.4 576.0,597.1 577.0,599.8 578.0,600.8 579.0,597.2 580.0,603.7 581.0,627.5 582.0,650.2 583.0,650.7 584.0,651.5 585.0,651.9 586.0,650.6 587.0,650.1 588.0,650.4 589.0,649.8 590.0,650.3 591.0,634.3 592.0,610.2 593.0,597.7 594.0,600.1 595.0,598.4 596.0,595.3 597.0,595.1 598.0,596.9 599.0,596.6 600.0,596.5 601.0,597.7 602.0,579.9 603.0,517.2 604.0,456.4 605.0,450.7 606.0,451.9 607.0,453.7 608.0,456.0 609.0,457.2 610.0,457.9 611.0,459.4 612.0,460.8 613.0,498.7 614.0,553.9 615.0,593.9 616.0,596.3 617.0,597.1 618.0,595.8 619.0,593.3 620.0,594.8 621.0,600.2 622.0,600.2 623.0,596.6 624.0,601.7 625.0,635.4 626.0,669.5 627.0,675.6 628.0,675.1 629.0,674.9 630.0,675.3 631.0,676.2 632.0,675.5 633.0,674.4 634.0,673.6 635.0,654.8 636.0,624.1 637.0,598.4 638.0,599.5 639.0,601.1 640.0,600.9 641.0,598.5 642.0,595.9 643.0,595.5 644.0,596.0 645.0,595.9 646.0,589.6 647.0,530.5 648.0,471.0 649.0,456.8 650.0,459.5 651.0,461.7 652.0,463.1 653.0,464.9 654.0,466.5 655.0,467.5 656.0,469.2 657.0,498.8 658.0,552.3 659.0,597.3 660.0,596.9 661.0,596.2 662.0,594.2 663.0,593.7 664.0,593.5 665.0,595.0 666.0,598.1 667.0,598.3 668.0,598.4 669.0,631.4 670.0,664.9 671.0,677.4 672.0,677.8 673.0,677.7 674.0,677.2 675.0,675.9 676.0,675.4 677.0,675.3 678.0,674.3 679.0,660.5 680.0,631.4 681.0,602.5 682.0,602.5 683.0,602.6 684.0,599.5 685.0,596.6 686.0,597.4 687.0,598.5 688.0,599.0 689.0,598.4 690.0,597.9 691.0,562.1 692.0,523.7 693.0,509.0 694.0,510.9 695.0,513.2 696.0,514.5 697.0,514.9 698.0,515.5 699.0,516.2 700.0,516.7 701.0,529.4 702.0,565.9 703.0,597.6 704.0,596.6 705.0,598.0 706.0,599.4 707.0,599.8 708.0,599.9 709.0,596.4 710.0,592.4 711.0,594.5 712.0,599.1 713.0,622.9 714.0,646.4 715.0,658.5 716.0,659.2 717.0,658.9 718.0,657.2 719.0,656.7 720.0,658.0 721.0,659.1 722.0,659.2 723.0,654.1 724.0,628.7 725.0,601.6 726.0,597.5 727.0,595.7 728.0,593.0 729.0,595.0 730.0,597.7 731.0,596.1 732.0,595.5 733.0,598.6 734.0,599.8 735.0,585.2 736.0,566.4 737.0,554.9 738.0,556.8 739.0,557.5 740.0,556.5 741.0,556.4 742.0,556.4 743.0,556.8 744.0,557.0 745.0,561.2 746.0,580.5 747.0,596.6 748.0,598.6 749.0,597.7 750.0,597.8 751.0,599.4 752.0,598.7 753.0,596.4 754.0,596.8 755.0,596.7 756.0,592.8 757.0,601.9 758.0,618.5 759.0,625.5 760.0,623.3 761.0,624.0 762.0,625.4 763.0,626.0 764.0,626.2 765.0,626.1 766.0,625.5 767.0,623.5 768.0,612.6 769.0,595.2 770.0,591.5 771.0,591.2 772.0,591.3 773.0,590.0 774.0,588.2 775.0,588.4 776.0,589.1 777.0,589.7 778.0,590.7 779.0,591.7 780.0,591.2 781.0,591.1 782.0,591.3 783.0,589.9 784.0,590.7 785.0,592.9 786.0,593.3 787.0,592.7 788.0,592.1 789.0,591.4 790.0,590.6 791.0,593.5 792.0,596.3 793.0,596.0 794.0,595.2 795.0,592.1 796.0,589.0 797.0,590.4 798.0,593.6 799.0,592.2 800.0,588.7 801.0,589.2 802.0,590.1 803.0,587.4 804.0,585.2 805.0,586.9 806.0,589.6 807.0,590.0 808.0,590.4 809.0,592.6 810.0,593.5 811.0,592.8 812.0,592.8 813.0,592.1 814.0,589.2 815.0,588.0 816.0,590.8 817.0,592.3 818.0,591.3 819.0,589.8 820.0,589.6 821.0,591.9 822.0,594.4 823.0,595.4 824.0,593.7 825.0,591.1 826.0,591.6 827.0,593.2 828.0,592.7 829.0,591.1 830.0,590.9 831.0,592.0 832.0,593.7 833.0,595.4 834.0,593.3 835.0,591.3 836.0,593.8 837.0,593.5 838.0,591.5 839.0,592.4 840.0,593.0 841.0,592.0 842.0,591.4 843.0,593.0 844.0,594.6 845.0,593.8 846.0,593.3 847.0,592.7 848.0,590.8 849.0,589.2 850.0,589.6 851.0,590.6 852.0,589.1 853.0,587.6 854.0,587.2 855.0,588.1 856.0,590.5 857.0,591.0 858.0,590.0" fill="none" stroke="#00c800" stroke-width="2.6" stroke-linejoin="round"/>
<polyline points="459.0,593.1 460.0,591.4 461.0,590.9 462.0,593.9 463.0,595.3 464.0,591.8 465.0,587.5 466.0,584.3 467.0,584.3 468.0,587.8 469.0,591.0 470.0,591.3 471.0,589.4 472.0,588.0 473.0,584.4 474.0,582.1 475.0,588.6 476.0,595.4 477.0,593.8 478.0,591.4 479.0,590.2 480.0,586.2 481.0,588.5 482.0,592.5 483.0,587.2 484.0,584.2 485.0,589.1 486.0,592.3 487.0,590.7 488.0,587.4 489.0,582.4 490.0,578.1 491.0,579.0 492.0,581.9 493.0,583.8 494.0,588.2 495.0,593.1 496.0,591.4 497.0,585.5 498.0,581.8 499.0,583.9 500.0,590.1 501.0,590.2 502.0,584.5 503.0,583.9 504.0,585.5 505.0,583.7 506.0,583.3 507.0,590.1 508.0,597.1 509.0,594.9 510.0,592.6 511.0,592.6 512.0,587.9 513.0,585.4 514.0,574.9 515.0,555.3 516.0,536.0 517.0,538.1 518.0,540.2 519.0,537.7 520.0,536.8 521.0,537.0 522.0,536.2 523.0,537.3 524.0,537.9 525.0,555.9 526.0,574.9 527.0,585.3 528.0,585.1 529.0,580.0 530.0,576.9 531.0,580.3 532.0,581.6 533.0,583.1 534.0,584.3 535.0,581.3 536.0,587.1 537.0,603.4 538.0,622.7 539.0,625.3 540.0,625.1 541.0,623.1 542.0,621.4 543.0,620.8 544.0,621.3 545.0,620.6 546.0,620.5 547.0,608.7 548.0,599.5 549.0,593.8 550.0,589.1 551.0,583.5 552.0,583.1 553.0,581.3 554.0,578.1 555.0,576.6 556.0,579.0 557.0,584.0 558.0,567.2 559.0,524.1 560.0,483.3 561.0,483.5 562.0,481.1 563.0,480.0 564.0,482.2 565.0,482.1 566.0,480.8 567.0,478.7 568.0,476.7 569.0,512.8 570.0,560.1 571.0,587.1 572.0,584.9 573.0,584.1 574.0,583.6 575.0,587.6 576.0,594.5 577.0,591.4 578.0,582.9 579.0,579.0 580.0,592.1 581.0,627.8 582.0,658.8 583.0,656.1 584.0,654.5 585.0,657.8 586.0,661.3 587.0,661.9 588.0,657.1 589.0,653.4 590.0,655.0 591.0,630.0 592.0,602.7 593.0,585.1 594.0,584.2 595.0,587.2 596.0,587.3 597.0,582.9 598.0,580.9 599.0,581.5 600.0,584.3 601.0,589.0 602.0,569.8 603.0,493.6 604.0,418.2 605.0,410.0 606.0,408.7 607.0,407.4 608.0,407.7 609.0,407.2 610.0,404.5 611.0,400.2 612.0,395.6 613.0,445.6 614.0,531.3 615.0,588.2 616.0,583.4 617.0,584.7 618.0,580.1 619.0,573.4 620.0,581.7 621.0,591.6 622.0,590.7 623.0,585.5 624.0,593.4 625.0,636.9 626.0,672.5 627.0,677.1 628.0,676.9 629.0,678.1 630.0,677.1 631.0,678.4 632.0,681.5 633.0,680.5 634.0,678.9 635.0,660.2 636.0,624.9 637.0,588.2 638.0,580.3 639.0,582.1 640.0,585.3 641.0,581.8 642.0,582.8 643.0,581.6 644.0,577.6 645.0,579.4 646.0,575.7 647.0,502.8 648.0,424.7 649.0,404.4 650.0,402.9 651.0,395.6 652.0,388.7 653.0,382.6 654.0,375.7 655.0,380.2 656.0,384.3 657.0,426.5 658.0,513.7 659.0,589.3 660.0,586.8 661.0,586.6 662.0,589.8 663.0,589.2 664.0,588.4 665.0,587.4 666.0,582.4 667.0,576.6 668.0,579.0 669.0,619.0 670.0,657.1 671.0,673.7 672.0,673.7 673.0,673.1 674.0,675.2 675.0,676.5 676.0,676.3 677.0,673.4 678.0,671.7 679.0,657.3 680.0,622.7 681.0,589.5 682.0,592.4 683.0,588.6 684.0,578.3 685.0,568.1 686.0,569.0 687.0,579.6 688.0,584.4 689.0,583.6 690.0,582.4 691.0,539.4 692.0,494.7 693.0,475.9 694.0,477.0 695.0,478.3 696.0,478.7 697.0,477.9 698.0,476.7 699.0,475.3 700.0,474.0 701.0,489.1 702.0,536.3 703.0,588.4 704.0,591.2 705.0,587.3 706.0,580.8 707.0,576.6 708.0,579.9 709.0,582.3 710.0,583.2 711.0,585.1 712.0,583.6 713.0,615.0 714.0,645.9 715.0,651.5 716.0,651.0 717.0,655.8 718.0,656.4 719.0,655.9 720.0,657.2 721.0,659.2 722.0,658.2 723.0,647.1 724.0,614.7 725.0,584.0 726.0,578.8 727.0,578.2 728.0,583.0 729.0,588.5 730.0,593.0 731.0,590.1 732.0,584.2 733.0,585.0 734.0,584.9 735.0,569.1 736.0,550.9 737.0,535.7 738.0,535.0 739.0,533.7 740.0,531.2 741.0,531.0 742.0,533.3 743.0,533.7 744.0,531.8 745.0,534.6 746.0,550.2 747.0,568.5 748.0,577.8 749.0,584.0 750.0,581.7 751.0,578.9 752.0,585.7 753.0,590.5 754.0,588.7 755.0,585.8 756.0,583.9 757.0,598.7 758.0,620.1 759.0,630.3 760.0,627.1 761.0,625.5 762.0,625.1 763.0,625.2 764.0,626.5 765.0,628.2 766.0,626.3 767.0,623.2 768.0,606.6 769.0,589.0 770.0,580.1 771.0,582.5 772.0,582.1 773.0,582.6 774.0,586.0 775.0,587.3 776.0,589.0 777.0,590.0 778.0,588.2 779.0,585.5 780.0,583.2 781.0,584.8 782.0,584.9 783.0,577.9 784.0,575.6 785.0,580.4 786.0,584.3 787.0,584.2 788.0,581.8 789.0,584.7 790.0,588.0 791.0,579.6 792.0,572.7 793.0,576.9 794.0,579.9 795.0,581.4 796.0,581.6 797.0,581.7 798.0,585.6 799.0,583.2 800.0,579.3 801.0,583.1 802.0,585.8 803.0,585.3 804.0,582.9 805.0,581.2 806.0,583.2 807.0,584.9 808.0,585.8 809.0,584.2 810.0,584.5 811.0,586.6 812.0,587.2 813.0,588.6 814.0,584.9 815.0,580.0 816.0,584.0 817.0,585.7 818.0,580.9 819.0,578.7 820.0,578.2 821.0,582.0 822.0,586.8 823.0,583.8 824.0,577.5 825.0,577.0 826.0,581.5 827.0,584.2 828.0,585.5 829.0,583.1 830.0,578.6 831.0,582.8 832.0,588.9 833.0,586.5 834.0,581.4 835.0,581.0 836.0,584.7 837.0,586.7 838.0,588.1 839.0,589.4 840.0,584.6 841.0,581.8 842.0,583.8 843.0,581.6 844.0,578.3 845.0,579.9 846.0,579.4 847.0,575.7 848.0,578.9 849.0,583.0 850.0,581.6 851.0,581.3 852.0,582.9 853.0,584.0 854.0,588.0 855.0,591.5 856.0,588.6 857.0,582.3 858.0,578.3" fill="none" stroke="#ff0000" stroke-width="2.6" stroke-linejoin="round"/>
<polyline points="459.0,589.7 460.0,592.8 461.0,593.1 462.0,591.8 463.0,592.3 464.0,591.4 465.0,588.8 466.0,588.2 467.0,588.8 468.0,589.1 469.0,589.5 470.0,590.2 471.0,589.1 472.0,587.7 473.0,588.7 474.0,590.9 475.0,591.4 476.0,589.3 477.0,588.3 478.0,589.9 479.0,590.2 480.0,586.0 481.0,583.6 482.0,586.6 483.0,588.1 484.0,590.4 485.0,593.6 486.0,592.0 487.0,588.8 488.0,587.0 489.0,588.8 490.0,591.0 491.0,590.0 492.0,589.4 493.0,589.9 494.0,591.0 495.0,592.0 496.0,590.0 497.0,585.5 498.0,583.3 499.0,585.2 500.0,586.4 501.0,585.2 502.0,583.9 503.0,583.3 504.0,585.1 505.0,587.8 506.0,588.3 507.0,588.0 508.0,587.9 509.0,589.0 510.0,592.5 511.0,594.7 512.0,594.5 513.0,593.7 514.0,583.4 515.0,561.8 516.0,544.7 517.0,543.2 518.0,542.3 519.0,542.5 520.0,541.3 521.0,542.1 522.0,544.5 523.0,544.3 524.0,543.9 525.0,563.6 526.0,584.6 527.0,595.5 528.0,597.2 529.0,597.5 530.0,596.9 531.0,596.8 532.0,598.5 533.0,597.4 534.0,594.3 535.0,593.5 536.0,602.8 537.0,619.6 538.0,629.7 539.0,628.4 540.0,627.9 541.0,627.3 542.0,626.5 543.0,626.6 544.0,627.0 545.0,626.5 546.0,626.3 547.0,613.5 548.0,598.6 549.0,592.1 550.0,593.6 551.0,593.6 552.0,592.2 553.0,590.8 554.0,591.0 555.0,591.7 556.0,592.1 557.0,592.0 558.0,571.0 559.0,527.6 560.0,483.7 561.0,482.3 562.0,483.1 563.0,485.2 564.0,485.8 565.0,485.0 566.0,483.5 567.0,485.4 568.0,488.0 569.0,525.8 570.0,567.8 571.0,591.9 572.0,596.9 573.0,600.0 574.0,596.9 575.0,595.5 576.0,597.8 577.0,598.8 578.0,594.0 579.0,592.5 580.0,604.9 581.0,630.3 582.0,655.0 583.0,654.7 584.0,655.5 585.0,656.4 586.0,655.5 587.0,656.0 588.0,656.7 589.0,656.4 590.0,657.7 591.0,638.9 592.0,608.9 593.0,593.6 594.0,595.6 595.0,595.9 596.0,598.6 597.0,599.3 598.0,597.3 599.0,595.9 600.0,593.6 601.0,592.5 602.0,574.0 603.0,503.4 604.0,434.8 605.0,428.4 606.0,429.5 607.0,429.8 608.0,429.5 609.0,430.1 610.0,432.6 611.0,434.5 612.0,435.0 613.0,480.8 614.0,546.1 615.0,594.7 616.0,595.2 617.0,592.6 618.0,592.6 619.0,593.7 620.0,592.9 621.0,594.1 622.0,595.2 623.0,595.2 624.0,603.2 625.0,637.8 626.0,670.0 627.0,674.7 628.0,674.6 629.0,675.4 630.0,675.1 631.0,675.5 632.0,675.5 633.0,674.9 634.0,673.9 635.0,650.1 636.0,619.8 637.0,595.3 638.0,593.4 639.0,594.2 640.0,598.5 641.0,599.8 642.0,594.6 643.0,590.9 644.0,590.9 645.0,589.8 646.0,581.5 647.0,512.4 648.0,443.7 649.0,426.5 650.0,427.1 651.0,426.5 652.0,428.4 653.0,430.6 654.0,430.9 655.0,431.8 656.0,433.1 657.0,468.5 658.0,537.5 659.0,599.2 660.0,596.5 661.0,593.5 662.0,595.4 663.0,594.9 664.0,592.3 665.0,593.7 666.0,596.6 667.0,596.2 668.0,595.0 669.0,630.0 670.0,667.9 671.0,679.9 672.0,677.5 673.0,676.5 674.0,677.6 675.0,678.4 676.0,677.8 677.0,677.0 678.0,677.4 679.0,663.9 680.0,628.8 681.0,595.7 682.0,596.6 683.0,595.0 684.0,594.5 685.0,594.8 686.0,595.4 687.0,596.9 688.0,595.5 689.0,593.3 690.0,592.3 691.0,554.8 692.0,519.3 693.0,501.6 694.0,500.2 695.0,498.5 696.0,497.9 697.0,499.9 698.0,502.0 699.0,502.4 700.0,504.2 701.0,518.2 702.0,551.0 703.0,588.8 704.0,592.0 705.0,590.6 706.0,589.8 707.0,590.7 708.0,592.7 709.0,596.7 710.0,596.8 711.0,591.4 712.0,589.4 713.0,615.5 714.0,644.3 715.0,659.5 716.0,659.1 717.0,657.4 718.0,657.2 719.0,657.8 720.0,657.5 721.0,657.0 722.0,657.0 723.0,650.1 724.0,625.3 725.0,595.5 726.0,589.9 727.0,593.3 728.0,594.3 729.0,591.7 730.0,590.9 731.0,593.8 732.0,596.5 733.0,596.2 734.0,597.1 735.0,581.2 736.0,559.5 737.0,547.7 738.0,545.8 739.0,544.1 740.0,545.7 741.0,548.2 742.0,550.2 743.0,551.3 744.0,551.5 745.0,555.4 746.0,575.7 747.0,593.4 748.0,596.5 749.0,598.1 750.0,599.7 751.0,598.2 752.0,594.8 753.0,592.7 754.0,591.2 755.0,591.5 756.0,593.3 757.0,604.7 758.0,617.9 759.0,624.8 760.0,624.7 761.0,627.3 762.0,628.3 763.0,628.3 764.0,629.2 765.0,628.4 766.0,626.3 767.0,624.9 768.0,611.6 769.0,592.9 770.0,589.7 771.0,589.7 772.0,590.3 773.0,590.4 774.0,589.4 775.0,588.0 776.0,586.1 777.0,585.5 778.0,585.8 779.0,587.7 780.0,589.2 781.0,591.3 782.0,591.9 783.0,588.5 784.0,587.9 785.0,588.8 786.0,587.8 787.0,588.4 788.0,588.3 789.0,586.6 790.0,588.4 791.0,589.5 792.0,586.1 793.0,585.7 794.0,589.5 795.0,592.4 796.0,594.0 797.0,592.1 798.0,588.7 799.0,589.4 800.0,591.3 801.0,588.8 802.0,585.8 803.0,587.8 804.0,588.3 805.0,585.5 806.0,585.7 807.0,588.2 808.0,590.9 809.0,593.1 810.0,592.6 811.0,590.5 812.0,588.7 813.0,587.0 814.0,586.4 815.0,586.9 816.0,588.5 817.0,592.2 818.0,594.1 819.0,592.4 820.0,591.3 821.0,590.7 822.0,590.6 823.0,592.1 824.0,591.8 825.0,589.3 826.0,588.7 827.0,588.8 828.0,588.0 829.0,589.1 830.0,590.4 831.0,587.1 832.0,584.9 833.0,586.4 834.0,585.0 835.0,582.6 836.0,584.5 837.0,586.2 838.0,584.7 839.0,586.1 840.0,588.8 841.0,588.2 842.0,587.1 843.0,587.6 844.0,587.1 845.0,586.4 846.0,589.4 847.0,590.2 848.0,586.8 849.0,584.7 850.0,586.3 851.0,588.1 852.0,586.5 853.0,584.2 854.0,585.3 855.0,588.6 856.0,589.2 857.0,590.1 858.0,591.7" fill="none" stroke="#ffa500" stroke-width="2.6" stroke-linejoin="round"/>
<line x1="875.9" y1="439" x2="894.4" y2="439" stroke="#ff0000" stroke-width="5"/>
<line x1="875.9" y1="482" x2="894.4" y2="482" stroke="#ffa500" stroke-width="5"/>
<line x1="875.9" y1="530.4" x2="894.4" y2="530.4" stroke="#00c800" stroke-width="5"/>
<line x1="875.9" y1="573.5" x2="894.4" y2="573.5" stroke="#0030ff" stroke-width="5"/>
<line x1="875.9" y1="617" x2="894.4" y2="617" stroke="#000000" stroke-width="5"/>
<rect x="300.9" y="818.6" width="358.9" height="425.6" fill="none" stroke="#000" stroke-width="3.2"/>
<line x1="480.2" y1="818.6" x2="480.2" y2="1244.2" stroke="#000" stroke-width="3"/>
<line x1="300.9" y1="1112.0" x2="659.8" y2="1112.0" stroke="#000" stroke-width="3.2"/>
<line x1="283" y1="910.1" x2="300.9" y2="910.1" stroke="#000" stroke-width="3.2"/>
<line x1="283" y1="1011.0" x2="300.9" y2="1011.0" stroke="#000" stroke-width="3.2"/>
<line x1="283" y1="1112.0" x2="300.9" y2="1112.0" stroke="#000" stroke-width="3.2"/>
<line x1="283" y1="1213.0" x2="300.9" y2="1213.0" stroke="#000" stroke-width="3.2"/>
<line x1="359.7" y1="1244.2" x2="359.7" y2="1261.6" stroke="#000" stroke-width="3.2"/>
<line x1="420.0" y1="1244.2" x2="420.0" y2="1261.6" stroke="#000" stroke-width="3.2"/>
<line x1="480.1" y1="1244.2" x2="480.1" y2="1261.6" stroke="#000" stroke-width="3.2"/>
<line x1="540.2" y1="1244.2" x2="540.2" y2="1261.6" stroke="#000" stroke-width="3.2"/>
<line x1="601.0" y1="1244.2" x2="601.0" y2="1261.6" stroke="#000" stroke-width="3.2"/>
<polyline points="321.9,873.0 325.9,881.7 329.9,890.2 333.9,898.6 337.9,906.8 342.0,914.8 346.0,922.7 350.0,930.4 354.0,937.9 358.0,945.3 362.0,952.5 366.0,959.7 370.0,966.6 374.0,973.4 378.0,980.1 382.0,986.7 386.0,993.1 390.0,999.4 394.0,1005.6 398.1,1011.6 402.1,1017.5 406.1,1023.3 410.1,1029.0 414.1,1034.6 418.1,1040.0 422.1,1045.4 426.1,1050.6 430.1,1055.8 434.1,1060.8 438.1,1065.8 442.1,1070.6 446.1,1075.3 450.1,1080.0 454.2,1084.5 458.2,1089.0 462.2,1093.4 466.2,1097.7 470.2,1101.9 474.2,1106.0 478.2,1110.0 482.2,1114.0 486.2,1117.8 490.2,1121.6 494.2,1125.4 498.2,1129.0 502.2,1132.6 506.2,1136.1 510.3,1139.5 514.3,1142.9 518.3,1146.2 522.3,1149.4 526.3,1152.6 530.3,1155.7 534.3,1158.7 538.3,1161.7 542.3,1164.6 546.3,1167.5 550.3,1170.3 554.3,1173.0 558.3,1175.7 562.3,1178.3 566.4,1180.9 570.4,1183.5 574.4,1185.9 578.4,1188.4 582.4,1190.8 586.4,1193.1 590.4,1195.4 594.4,1197.6 598.4,1199.8 602.4,1202.0 606.4,1204.1 610.4,1206.2 614.4,1208.2 618.4,1210.2 622.5,1212.1 626.5,1214.0 630.5,1215.9 634.5,1217.7 638.5,1219.5" fill="none" stroke="#ff0000" stroke-width="3" stroke-linejoin="round"/>
<rect x="313.9" y="867.0" width="16" height="12.4" fill="#ff0000"/>
<rect x="366.4" y="968.8" width="16" height="12.4" fill="#ff0000"/>
<rect x="419.3" y="1043.7" width="16" height="12.4" fill="#ff0000"/>
<rect x="525.1" y="1153.6" width="16" height="12.4" fill="#ff0000"/>
<rect x="578.0" y="1189.8" width="16" height="12.4" fill="#ff0000"/>
<rect x="630.5" y="1210.4" width="16" height="12.4" fill="#ff0000"/>
<polyline points="321.9,900.4 325.9,907.8 329.9,915.1 333.9,922.2 337.9,929.2 342.0,936.1 346.0,942.9 350.0,949.5 354.0,956.1 358.0,962.5 362.0,968.8 366.0,975.0 370.0,981.0 374.0,987.0 378.0,992.9 382.0,998.6 386.0,1004.3 390.0,1009.9 394.0,1015.3 398.1,1020.7 402.1,1026.0 406.1,1031.1 410.1,1036.2 414.1,1041.2 418.1,1046.1 422.1,1050.9 426.1,1055.7 430.1,1060.3 434.1,1064.9 438.1,1069.4 442.1,1073.8 446.1,1078.1 450.1,1082.4 454.2,1086.6 458.2,1090.7 462.2,1094.7 466.2,1098.7 470.2,1102.6 474.2,1106.4 478.2,1110.1 482.2,1113.8 486.2,1117.5 490.2,1121.0 494.2,1124.5 498.2,1128.0 502.2,1131.3 506.2,1134.6 510.3,1137.9 514.3,1141.1 518.3,1144.2 522.3,1147.3 526.3,1150.4 530.3,1153.3 534.3,1156.3 538.3,1159.1 542.3,1162.0 546.3,1164.7 550.3,1167.5 554.3,1170.1 558.3,1172.8 562.3,1175.4 566.4,1177.9 570.4,1180.4 574.4,1182.8 578.4,1185.2 582.4,1187.6 586.4,1189.9 590.4,1192.2 594.4,1194.4 598.4,1196.6 602.4,1198.8 606.4,1200.9 610.4,1203.0 614.4,1205.1 618.4,1207.1 622.5,1209.0 626.5,1211.0 630.5,1212.9 634.5,1214.8 638.5,1216.6" fill="none" stroke="#ffa500" stroke-width="3" stroke-linejoin="round"/>
<circle cx="321.9" cy="901.7" r="4.8" fill="none" stroke="#ffa500" stroke-width="1.6"/>
<circle cx="374.4" cy="986.5" r="4.8" fill="none" stroke="#ffa500" stroke-width="1.6"/>
<circle cx="427.3" cy="1053.3" r="4.8" fill="none" stroke="#ffa500" stroke-width="1.6"/>
<circle cx="533.1" cy="1156.5" r="4.8" fill="none" stroke="#ffa500" stroke-width="1.6"/>
<circle cx="586.0" cy="1193.0" r="4.8" fill="none" stroke="#ffa500" stroke-width="1.6"/>
<circle cx="638.5" cy="1213.2" r="4.8" fill="none" stroke="#ffa500" stroke-width="1.6"/>
<polyline points="321.9,932.6 325.9,938.6 329.9,944.6 333.9,950.4 337.9,956.2 342.0,961.9 346.0,967.5 350.0,973.0 354.0,978.4 358.0,983.7 362.0,989.0 366.0,994.1 370.0,999.2 374.0,1004.2 378.0,1009.1 382.0,1014.0 386.0,1018.8 390.0,1023.5 394.0,1028.1 398.1,1032.7 402.1,1037.2 406.1,1041.6 410.1,1045.9 414.1,1050.2 418.1,1054.4 422.1,1058.6 426.1,1062.7 430.1,1066.7 434.1,1070.6 438.1,1074.5 442.1,1078.4 446.1,1082.2 450.1,1085.9 454.2,1089.5 458.2,1093.1 462.2,1096.7 466.2,1100.2 470.2,1103.6 474.2,1107.0 478.2,1110.4 482.2,1113.6 486.2,1116.9 490.2,1120.0 494.2,1123.2 498.2,1126.3 502.2,1129.3 506.2,1132.3 510.3,1135.2 514.3,1138.1 518.3,1141.0 522.3,1143.8 526.3,1146.6 530.3,1149.3 534.3,1152.0 538.3,1154.6 542.3,1157.2 546.3,1159.8 550.3,1162.3 554.3,1164.7 558.3,1167.2 562.3,1169.6 566.4,1172.0 570.4,1174.3 574.4,1176.6 578.4,1178.8 582.4,1181.0 586.4,1183.2 590.4,1185.4 594.4,1187.5 598.4,1189.6 602.4,1191.6 606.4,1193.7 610.4,1195.7 614.4,1197.6 618.4,1199.6 622.5,1201.5 626.5,1203.3 630.5,1205.2 634.5,1207.0 638.5,1208.8" fill="none" stroke="#00c800" stroke-width="3" stroke-linejoin="round"/>
<polygon points="321.9,925.4 328.4,938.1 315.4,938.1" fill="#00c800"/>
<polygon points="374.4,992.8 380.9,1005.5 367.9,1005.5" fill="#00c800"/>
<polygon points="427.3,1059.0 433.8,1071.7 420.8,1071.7" fill="#00c800"/>
<polygon points="533.1,1146.0 539.6,1158.7 526.6,1158.7" fill="#00c800"/>
<polygon points="586.0,1175.6 592.5,1188.3 579.5,1188.3" fill="#00c800"/>
<polygon points="638.5,1198.6 645.0,1211.3 632.0,1211.3" fill="#00c800"/>
<polyline points="321.9,972.0 325.9,976.3 329.9,980.6 333.9,984.9 337.9,989.1 342.0,993.2 346.0,997.4 350.0,1001.4 354.0,1005.4 358.0,1009.4 362.0,1013.4 366.0,1017.2 370.0,1021.1 374.0,1024.9 378.0,1028.7 382.0,1032.4 386.0,1036.1 390.0,1039.7 394.0,1043.3 398.1,1046.9 402.1,1050.4 406.1,1053.9 410.1,1057.4 414.1,1060.8 418.1,1064.1 422.1,1067.5 426.1,1070.8 430.1,1074.1 434.1,1077.3 438.1,1080.5 442.1,1083.6 446.1,1086.8 450.1,1089.9 454.2,1092.9 458.2,1095.9 462.2,1098.9 466.2,1101.9 470.2,1104.8 474.2,1107.7 478.2,1110.6 482.2,1113.4 486.2,1116.2 490.2,1119.0 494.2,1121.7 498.2,1124.4 502.2,1127.1 506.2,1129.8 510.3,1132.4 514.3,1135.0 518.3,1137.6 522.3,1140.1 526.3,1142.6 530.3,1145.1 534.3,1147.5 538.3,1150.0 542.3,1152.4 546.3,1154.8 550.3,1157.1 554.3,1159.4 558.3,1161.7 562.3,1164.0 566.4,1166.3 570.4,1168.5 574.4,1170.7 578.4,1172.9 582.4,1175.0 586.4,1177.2 590.4,1179.3 594.4,1181.3 598.4,1183.4 602.4,1185.4 606.4,1187.5 610.4,1189.5 614.4,1191.4 618.4,1193.4 622.5,1195.3 626.5,1197.2 630.5,1199.1 634.5,1201.0 638.5,1202.8" fill="none" stroke="#0030ff" stroke-width="3" stroke-linejoin="round"/>
<polygon points="321.9,965.2 327.9,976.9 315.9,976.9" fill="#fff" stroke="#0030ff" stroke-width="1.6"/>
<polygon points="374.4,1016.0 380.4,1027.7 368.4,1027.7" fill="#fff" stroke="#0030ff" stroke-width="1.6"/>
<polygon points="427.3,1064.1 433.3,1075.8 421.3,1075.8" fill="#fff" stroke="#0030ff" stroke-width="1.6"/>
<polygon points="533.1,1140.6 539.1,1152.3 527.1,1152.3" fill="#fff" stroke="#0030ff" stroke-width="1.6"/>
<polygon points="586.0,1171.0 592.0,1182.7 580.0,1182.7" fill="#fff" stroke="#0030ff" stroke-width="1.6"/>
<polygon points="638.5,1193.3 644.5,1205.0 632.5,1205.0" fill="#fff" stroke="#0030ff" stroke-width="1.6"/>
<polyline points="321.9,994.9 325.9,998.4 329.9,1001.9 333.9,1005.4 337.9,1008.8 342.0,1012.2 346.0,1015.5 350.0,1018.9 354.0,1022.2 358.0,1025.5 362.0,1028.7 366.0,1031.9 370.0,1035.1 374.0,1038.2 378.0,1041.4 382.0,1044.5 386.0,1047.5 390.0,1050.6 394.0,1053.6 398.1,1056.6 402.1,1059.5 406.1,1062.4 410.1,1065.3 414.1,1068.2 418.1,1071.1 422.1,1073.9 426.1,1076.7 430.1,1079.5 434.1,1082.2 438.1,1084.9 442.1,1087.6 446.1,1090.3 450.1,1092.9 454.2,1095.5 458.2,1098.1 462.2,1100.7 466.2,1103.3 470.2,1105.8 474.2,1108.3 478.2,1110.8 482.2,1113.2 486.2,1115.7 490.2,1118.1 494.2,1120.5 498.2,1122.8 502.2,1125.2 506.2,1127.5 510.3,1129.8 514.3,1132.1 518.3,1134.3 522.3,1136.6 526.3,1138.8 530.3,1141.0 534.3,1143.2 538.3,1145.3 542.3,1147.5 546.3,1149.6 550.3,1151.7 554.3,1153.8 558.3,1155.8 562.3,1157.9 566.4,1159.9 570.4,1161.9 574.4,1163.9 578.4,1165.8 582.4,1167.8 586.4,1169.7 590.4,1171.6 594.4,1173.5 598.4,1175.4 602.4,1177.3 606.4,1179.1 610.4,1180.9 614.4,1182.8 618.4,1184.6 622.5,1186.3 626.5,1188.1 630.5,1189.8 634.5,1191.6 638.5,1193.3" fill="none" stroke="#000000" stroke-width="3" stroke-linejoin="round"/>
<rect x="317.1" y="991.4" width="9.6" height="9.6" fill="#000000"/>
<rect x="369.6" y="1031.7" width="9.6" height="9.6" fill="#000000"/>
<rect x="422.5" y="1072.0" width="9.6" height="9.6" fill="#000000"/>
<rect x="528.3" y="1139.0" width="9.6" height="9.6" fill="#000000"/>
<rect x="581.2" y="1165.7" width="9.6" height="9.6" fill="#000000"/>
<rect x="633.7" y="1187.1" width="9.6" height="9.6" fill="#000000"/>
<line x1="694" y1="912.4" x2="721.7" y2="912.4" stroke="#ff0000" stroke-width="5"/>
<rect x="700.0" y="906.2" width="16" height="12.4" fill="#ff0000"/>
<line x1="694" y1="955" x2="721.7" y2="955" stroke="#ffa500" stroke-width="5"/>
<circle cx="708.0" cy="955.0" r="4.8" fill="none" stroke="#ffa500" stroke-width="1.6"/>
<line x1="694" y1="1003.6" x2="721.7" y2="1003.6" stroke="#00c800" stroke-width="5"/>
<polygon points="708.0,996.6 714.5,1009.3 701.5,1009.3" fill="#00c800"/>
<line x1="694" y1="1046.1" x2="721.7" y2="1046.1" stroke="#0030ff" stroke-width="5"/>
<polygon points="708.0,1039.8 714.0,1051.5 702.0,1051.5" fill="#fff" stroke="#0030ff" stroke-width="1.6"/>
<line x1="694" y1="1087.8" x2="721.7" y2="1087.8" stroke="#000000" stroke-width="5"/>
<rect x="703.2" y="1083.0" width="9.6" height="9.6" fill="#000000"/>
<path d="M310.40,550.60 L302.60,568.00 L318.00,568.00 Z M309.72,555.04 L304.63,566.40 L314.68,566.40 Z" fill="#000" fill-rule="evenodd"/>
<path d="M169.50,992.00 L161.70,1009.20 L177.00,1009.20 Z M168.81,996.42 L163.74,1007.60 L173.68,1007.60 Z" fill="#000" fill-rule="evenodd"/>
<g opacity="0.999">
<text x="1.49" y="31.80" font-size="25" font-weight="bold" fill="#000" textLength="18.18" lengthAdjust="spacingAndGlyphs">A</text>
<text x="401.42" y="31.50" font-size="25" font-weight="bold" fill="#000" textLength="17.61" lengthAdjust="spacingAndGlyphs">C</text>
<text x="1.97" y="387.40" font-size="25" font-weight="bold" fill="#000" textLength="18.30" lengthAdjust="spacingAndGlyphs">B</text>
<text x="400.93" y="387.50" font-size="25" font-weight="bold" fill="#000" textLength="18.66" lengthAdjust="spacingAndGlyphs">D</text>
<text x="166.86" y="835.40" font-size="25" font-weight="bold" fill="#000" textLength="16.21" lengthAdjust="spacingAndGlyphs">E</text>
<text x="74.98" y="281.00" font-size="25.5" font-weight="normal" fill="#fff" stroke="#fff" stroke-width="0.35" textLength="64.84" lengthAdjust="spacingAndGlyphs">10µm</text>
<text x="266.00" y="281.00" font-size="25.5" font-weight="normal" fill="#fff" stroke="#fff" stroke-width="0.35" textLength="17.02" lengthAdjust="spacingAndGlyphs">E</text>
<text x="450.00" y="340.70" font-size="25.5" font-weight="normal" fill="#000" stroke="#000" stroke-width="0.35" textLength="14.19" lengthAdjust="spacingAndGlyphs">0</text>
<text x="547.64" y="340.80" font-size="25.5" font-weight="normal" fill="#000" stroke="#000" stroke-width="0.35" textLength="41.70" lengthAdjust="spacingAndGlyphs">100</text>
<text x="658.62" y="340.80" font-size="25.5" font-weight="normal" fill="#000" stroke="#000" stroke-width="0.35" textLength="41.51" lengthAdjust="spacingAndGlyphs">200</text>
<text x="751.42" y="340.80" font-size="25.5" font-weight="normal" fill="#000" stroke="#000" stroke-width="0.35" textLength="41.51" lengthAdjust="spacingAndGlyphs">300</text>
<text x="910.06" y="40.20" font-size="25.5" font-weight="normal" fill="#000" stroke="#000" stroke-width="0.35" textLength="15.10" lengthAdjust="spacingAndGlyphs">F</text>
<text x="890.92" y="70.70" font-size="25.5" font-weight="normal" fill="#000" stroke="#000" stroke-width="0.35" textLength="58.84" lengthAdjust="spacingAndGlyphs">[a.u.]</text>
<text x="942.57" y="287.30" font-size="25.5" font-weight="normal" fill="#000" stroke="#000" stroke-width="0.35" textLength="14.66" lengthAdjust="spacingAndGlyphs">0</text>
<text x="394.52" y="441.00" font-size="25.5" font-weight="normal" fill="#000" stroke="#000" stroke-width="0.35" textLength="42.02" lengthAdjust="spacingAndGlyphs">100</text>
<text x="408.41" y="519.60" font-size="25.5" font-weight="normal" fill="#000" stroke="#000" stroke-width="0.35" textLength="27.95" lengthAdjust="spacingAndGlyphs">50</text>
<text x="422.56" y="600.80" font-size="25.5" font-weight="normal" fill="#000" stroke="#000" stroke-width="0.35" textLength="14.78" lengthAdjust="spacingAndGlyphs">0</text>
<text x="399.28" y="676.40" font-size="25.5" font-weight="normal" fill="#000" stroke="#000" stroke-width="0.35" textLength="37.60" lengthAdjust="spacingAndGlyphs">-50</text>
<text x="450.24" y="736.90" font-size="25.5" font-weight="normal" fill="#000" stroke="#000" stroke-width="0.35" textLength="15.02" lengthAdjust="spacingAndGlyphs">0</text>
<text x="533.05" y="737.20" font-size="25.5" font-weight="normal" fill="#000" stroke="#000" stroke-width="0.35" textLength="41.48" lengthAdjust="spacingAndGlyphs">100</text>
<text x="642.99" y="737.20" font-size="25.5" font-weight="normal" fill="#000" stroke="#000" stroke-width="0.35" textLength="43.07" lengthAdjust="spacingAndGlyphs">200</text>
<text x="752.67" y="737.20" font-size="25.5" font-weight="normal" fill="#000" stroke="#000" stroke-width="0.35" textLength="43.69" lengthAdjust="spacingAndGlyphs">300</text>
<text x="629.20" y="778.60" font-size="25.5" font-weight="normal" fill="#000" stroke="#000" stroke-width="0.35" textLength="62.55" lengthAdjust="spacingAndGlyphs">t [ms]</text>
<text x="318.04" y="568.00" font-size="25.5" font-weight="normal" fill="#000" stroke="#000" stroke-width="0.35" textLength="37.40" lengthAdjust="spacingAndGlyphs">F/F</text>
<text x="310.72" y="605.80" font-size="25.5" font-weight="normal" fill="#000" stroke="#000" stroke-width="0.35" textLength="38.41" lengthAdjust="spacingAndGlyphs">[%]</text>
<text x="899.18" y="447.60" font-size="25.5" font-weight="normal" fill="#000" stroke="#000" stroke-width="0.35" textLength="100.08" lengthAdjust="spacingAndGlyphs">1040 nm</text>
<text x="899.29" y="490.60" font-size="25.5" font-weight="normal" fill="#000" stroke="#000" stroke-width="0.35" textLength="99.97" lengthAdjust="spacingAndGlyphs">1020 nm</text>
<text x="899.29" y="539.00" font-size="25.5" font-weight="normal" fill="#000" stroke="#000" stroke-width="0.35" textLength="99.97" lengthAdjust="spacingAndGlyphs">1000 nm</text>
<text x="909.29" y="582.20" font-size="25.5" font-weight="normal" fill="#000" stroke="#000" stroke-width="0.35" textLength="85.98" lengthAdjust="spacingAndGlyphs">980 nm</text>
<text x="909.29" y="625.70" font-size="25.5" font-weight="normal" fill="#000" stroke="#000" stroke-width="0.35" textLength="85.98" lengthAdjust="spacingAndGlyphs">960 nm</text>
<text x="219.11" y="922.40" font-size="25.5" font-weight="normal" fill="#000" stroke="#000" stroke-width="0.35" textLength="42.33" lengthAdjust="spacingAndGlyphs">100</text>
<text x="240.72" y="1018.90" font-size="25.5" font-weight="normal" fill="#000" stroke="#000" stroke-width="0.35" textLength="27.85" lengthAdjust="spacingAndGlyphs">50</text>
<text x="261.48" y="1120.00" font-size="25.5" font-weight="normal" fill="#000" stroke="#000" stroke-width="0.35" textLength="14.54" lengthAdjust="spacingAndGlyphs">0</text>
<text x="227.57" y="1221.30" font-size="25.5" font-weight="normal" fill="#000" stroke="#000" stroke-width="0.35" textLength="37.91" lengthAdjust="spacingAndGlyphs">-50</text>
<text x="335.78" y="1292.40" font-size="25.5" font-weight="normal" fill="#000" stroke="#000" stroke-width="0.35" textLength="52.09" lengthAdjust="spacingAndGlyphs">-100</text>
<text x="402.63" y="1292.40" font-size="25.5" font-weight="normal" fill="#000" stroke="#000" stroke-width="0.35" textLength="35.60" lengthAdjust="spacingAndGlyphs">-50</text>
<text x="474.12" y="1292.30" font-size="25.5" font-weight="normal" fill="#000" stroke="#000" stroke-width="0.35" textLength="13.95" lengthAdjust="spacingAndGlyphs">0</text>
<text x="527.30" y="1292.40" font-size="25.5" font-weight="normal" fill="#000" stroke="#000" stroke-width="0.35" textLength="28.48" lengthAdjust="spacingAndGlyphs">50</text>
<text x="581.61" y="1292.40" font-size="25.5" font-weight="normal" fill="#000" stroke="#000" stroke-width="0.35" textLength="42.33" lengthAdjust="spacingAndGlyphs">100</text>
<text x="379.60" y="1347.90" font-size="25.5" font-weight="normal" fill="#000" stroke="#000" stroke-width="0.35" textLength="215.86" lengthAdjust="spacingAndGlyphs">Applied Membrane</text>
<text x="419.20" y="1382.20" font-size="25.5" font-weight="normal" fill="#000" stroke="#000" stroke-width="0.35" textLength="144.39" lengthAdjust="spacingAndGlyphs">Voltage [mV]</text>
<text x="177.16" y="1009.00" font-size="25.5" font-weight="normal" fill="#000" stroke="#000" stroke-width="0.35" textLength="37.19" lengthAdjust="spacingAndGlyphs">F/F</text>
<text x="168.24" y="1047.40" font-size="25.5" font-weight="normal" fill="#000" stroke="#000" stroke-width="0.35" textLength="39.75" lengthAdjust="spacingAndGlyphs">[%]</text>
<text x="730.97" y="921.50" font-size="25.5" font-weight="normal" fill="#000" stroke="#000" stroke-width="0.35" textLength="100.80" lengthAdjust="spacingAndGlyphs">1040 nm</text>
<text x="730.97" y="963.10" font-size="25.5" font-weight="normal" fill="#000" stroke="#000" stroke-width="0.35" textLength="100.80" lengthAdjust="spacingAndGlyphs">1020 nm</text>
<text x="730.97" y="1011.60" font-size="25.5" font-weight="normal" fill="#000" stroke="#000" stroke-width="0.35" textLength="100.80" lengthAdjust="spacingAndGlyphs">1000 nm</text>
<text x="741.90" y="1053.30" font-size="25.5" font-weight="normal" fill="#000" stroke="#000" stroke-width="0.35" textLength="85.47" lengthAdjust="spacingAndGlyphs">980 nm</text>
<text x="741.90" y="1095.00" font-size="25.5" font-weight="normal" fill="#000" stroke="#000" stroke-width="0.35" textLength="85.47" lengthAdjust="spacingAndGlyphs">960 nm</text>
</g>
<rect x="76.00" y="278.30" width="4.75" height="3.90" fill="#0e0e0e"/>
<rect x="84.25" y="278.30" width="4.75" height="3.90" fill="#0e0e0e"/>
<rect x="548.00" y="338.30" width="5.75" height="3.90" fill="#fff"/>
<rect x="557.25" y="338.30" width="4.30" height="3.90" fill="#fff"/>
<rect x="395.00" y="438.30" width="5.75" height="3.90" fill="#fff"/>
<rect x="403.25" y="438.30" width="5.28" height="3.90" fill="#fff"/>
<rect x="534.00" y="734.30" width="4.75" height="3.90" fill="#fff"/>
<rect x="542.25" y="734.30" width="4.63" height="3.90" fill="#fff"/>
<rect x="900.00" y="445.30" width="4.75" height="3.90" fill="#fff"/>
<rect x="908.25" y="445.30" width="5.24" height="3.90" fill="#fff"/>
<rect x="900.00" y="488.30" width="4.75" height="3.90" fill="#fff"/>
<rect x="908.25" y="488.30" width="5.33" height="3.90" fill="#fff"/>
<rect x="900.00" y="536.30" width="4.75" height="3.90" fill="#fff"/>
<rect x="908.25" y="536.30" width="5.33" height="3.90" fill="#fff"/>
<rect x="220.00" y="919.30" width="4.75" height="3.90" fill="#fff"/>
<rect x="228.25" y="919.30" width="4.75" height="3.90" fill="#fff"/>
<rect x="345.00" y="1289.30" width="5.75" height="3.90" fill="#fff"/>
<rect x="354.25" y="1289.30" width="4.68" height="3.90" fill="#fff"/>
<rect x="582.00" y="1289.30" width="5.75" height="3.90" fill="#fff"/>
<rect x="590.25" y="1289.30" width="5.48" height="3.90" fill="#fff"/>
<rect x="732.00" y="919.30" width="4.75" height="3.90" fill="#fff"/>
<rect x="740.25" y="919.30" width="4.75" height="3.90" fill="#fff"/>
<rect x="732.00" y="960.30" width="4.75" height="3.90" fill="#fff"/>
<rect x="740.25" y="960.30" width="4.75" height="3.90" fill="#fff"/>
<rect x="732.00" y="1009.30" width="4.75" height="3.90" fill="#fff"/>
<rect x="740.25" y="1009.30" width="4.75" height="3.90" fill="#fff"/>
</svg></body></html>
